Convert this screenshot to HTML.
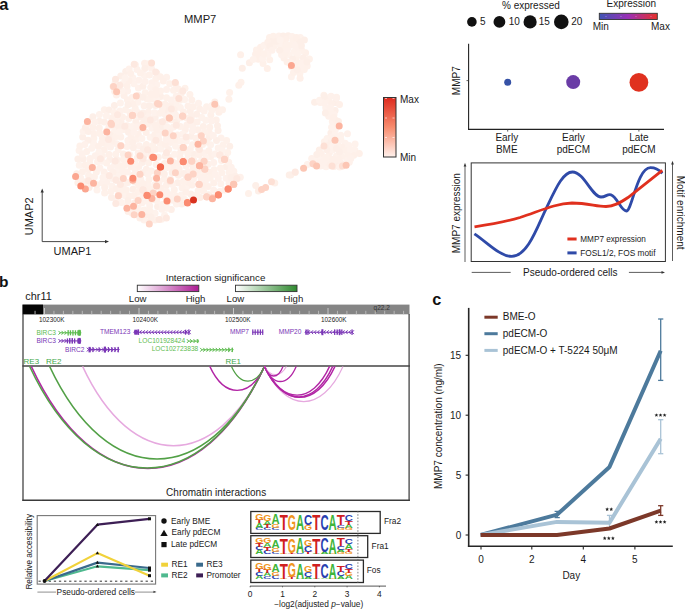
<!DOCTYPE html>
<html><head><meta charset="utf-8"><style>
html,body{margin:0;padding:0;background:#fff;}
svg{display:block;font-family:"Liberation Sans", sans-serif;}
</style></head><body>
<svg width="685" height="610" viewBox="0 0 685 610" font-family='"Liberation Sans", sans-serif'>
<rect width="685" height="610" fill="#fff"/>
<defs>
<linearGradient id="gRed" x1="0" y1="1" x2="0" y2="0"><stop offset="0" stop-color="#fff1ec"/><stop offset="0.5" stop-color="#f88c6e"/><stop offset="1" stop-color="#dd2a1e"/></linearGradient>
<linearGradient id="gExp" x1="0" y1="0" x2="1" y2="0"><stop offset="0" stop-color="#3f54b4"/><stop offset="0.5" stop-color="#9a2fb5"/><stop offset="1" stop-color="#e8312a"/></linearGradient>
<linearGradient id="gMag" x1="0" y1="0" x2="1" y2="0"><stop offset="0" stop-color="#ffffff"/><stop offset="1" stop-color="#ac1b94"/></linearGradient>
<linearGradient id="gGrn" x1="0" y1="0" x2="1" y2="0"><stop offset="0" stop-color="#ffffff"/><stop offset="1" stop-color="#2f8a2f"/></linearGradient>
<marker id="arr" viewBox="0 0 6 6" refX="5" refY="3" markerWidth="5" markerHeight="5" orient="auto"><path d="M0,0 L6,3 L0,6 z" fill="#333"/></marker>
</defs>
<text x="-0.8" y="9.8" font-size="16.5" text-anchor="start" fill="#111" font-weight="bold" >a</text>
<text x="184" y="23" font-size="11.2" text-anchor="start" fill="#1a1a1a" font-weight="normal" >MMP7</text>
<circle cx="135.4" cy="64.8" r="3.5" fill="#fef1eb"/>
<circle cx="144.6" cy="63.3" r="3.5" fill="#fef0e9"/>
<circle cx="148.6" cy="63.7" r="3.5" fill="#fef1ea"/>
<circle cx="156.7" cy="72.9" r="3.5" fill="#fdefe8"/>
<circle cx="166.6" cy="77.3" r="3.5" fill="#fef1eb"/>
<circle cx="175.7" cy="83.9" r="3.5" fill="#fef0e9"/>
<circle cx="185.0" cy="88.3" r="3.5" fill="#fef1ea"/>
<circle cx="189.9" cy="94.6" r="3.5" fill="#fef1ea"/>
<circle cx="198.5" cy="103.2" r="3.5" fill="#fef1eb"/>
<circle cx="206.6" cy="106.7" r="3.5" fill="#fef1ea"/>
<circle cx="211.9" cy="105.4" r="3.5" fill="#fef2ec"/>
<circle cx="214.8" cy="102.1" r="3.5" fill="#fdefe8"/>
<circle cx="217.3" cy="108.3" r="3.5" fill="#fdefe8"/>
<circle cx="218.9" cy="112.2" r="3.5" fill="#fef0e9"/>
<circle cx="216.2" cy="120.0" r="3.5" fill="#fef0e9"/>
<circle cx="217.5" cy="125.7" r="3.5" fill="#fdefe8"/>
<circle cx="218.1" cy="130.6" r="3.5" fill="#fdefe8"/>
<circle cx="221.1" cy="138.0" r="3.5" fill="#fef1eb"/>
<circle cx="226.6" cy="140.5" r="3.5" fill="#fef1ea"/>
<circle cx="229.7" cy="146.3" r="3.5" fill="#fdefe8"/>
<circle cx="227.7" cy="152.4" r="3.5" fill="#fef1ea"/>
<circle cx="233.8" cy="171.3" r="3.5" fill="#fef1eb"/>
<circle cx="240.3" cy="177.3" r="3.5" fill="#fef1eb"/>
<circle cx="234.1" cy="180.9" r="3.5" fill="#fef2ec"/>
<circle cx="224.7" cy="189.9" r="3.5" fill="#fef1eb"/>
<circle cx="219.9" cy="191.5" r="3.5" fill="#fef1eb"/>
<circle cx="208.7" cy="194.8" r="3.5" fill="#fdefe8"/>
<circle cx="200.0" cy="197.4" r="3.5" fill="#fdefe8"/>
<circle cx="192.5" cy="199.3" r="3.5" fill="#fdefe8"/>
<circle cx="188.2" cy="202.1" r="3.5" fill="#fef2ec"/>
<circle cx="181.8" cy="204.1" r="3.5" fill="#fdefe8"/>
<circle cx="171.3" cy="209.6" r="3.5" fill="#fdefe8"/>
<circle cx="161.5" cy="219.2" r="3.5" fill="#fef0e9"/>
<circle cx="149.2" cy="221.6" r="3.5" fill="#fdefe8"/>
<circle cx="144.1" cy="220.1" r="3.5" fill="#fef1eb"/>
<circle cx="139.9" cy="217.9" r="3.5" fill="#fdefe8"/>
<circle cx="132.2" cy="213.3" r="3.5" fill="#fef1eb"/>
<circle cx="128.1" cy="211.5" r="3.5" fill="#fef0e9"/>
<circle cx="116.0" cy="198.9" r="3.5" fill="#fef2ec"/>
<circle cx="111.5" cy="197.5" r="3.5" fill="#fdefe8"/>
<circle cx="104.6" cy="193.0" r="3.5" fill="#fef1ea"/>
<circle cx="97.0" cy="190.0" r="3.5" fill="#fef2ec"/>
<circle cx="89.1" cy="187.6" r="3.5" fill="#fdefe8"/>
<circle cx="84.1" cy="186.5" r="3.5" fill="#fef1eb"/>
<circle cx="77.9" cy="182.8" r="3.5" fill="#fef0e9"/>
<circle cx="76.7" cy="173.8" r="3.5" fill="#fdefe8"/>
<circle cx="79.1" cy="150.5" r="3.5" fill="#fef2ec"/>
<circle cx="79.9" cy="146.0" r="3.5" fill="#fef1ea"/>
<circle cx="82.7" cy="137.0" r="3.5" fill="#fdefe8"/>
<circle cx="83.2" cy="131.5" r="3.5" fill="#fef2ec"/>
<circle cx="85.4" cy="127.5" r="3.5" fill="#fdefe8"/>
<circle cx="87.5" cy="123.6" r="3.5" fill="#fef1ea"/>
<circle cx="92.9" cy="116.8" r="3.5" fill="#fdefe8"/>
<circle cx="104.3" cy="109.8" r="3.5" fill="#fef1ea"/>
<circle cx="109.0" cy="109.9" r="3.5" fill="#fdefe8"/>
<circle cx="114.4" cy="105.4" r="3.5" fill="#fdefe8"/>
<circle cx="116.4" cy="95.0" r="3.5" fill="#fef2ec"/>
<circle cx="114.7" cy="91.6" r="3.5" fill="#fef1ea"/>
<circle cx="113.0" cy="86.6" r="3.5" fill="#fef1ea"/>
<circle cx="115.1" cy="82.9" r="3.5" fill="#fef2ec"/>
<circle cx="120.8" cy="75.9" r="3.5" fill="#fdefe8"/>
<circle cx="125.7" cy="71.6" r="3.5" fill="#fdefe8"/>
<circle cx="129.1" cy="69.0" r="3.5" fill="#fef1eb"/>
<circle cx="256.5" cy="50.1" r="3.5" fill="#fef1ea"/>
<circle cx="260.6" cy="47.2" r="3.5" fill="#fef0e9"/>
<circle cx="264.1" cy="45.3" r="3.5" fill="#fef2ec"/>
<circle cx="269.5" cy="37.5" r="3.5" fill="#fef1ea"/>
<circle cx="273.3" cy="36.3" r="3.5" fill="#fef1ea"/>
<circle cx="278.9" cy="36.0" r="3.5" fill="#fef1eb"/>
<circle cx="283.2" cy="36.0" r="3.5" fill="#fdefe8"/>
<circle cx="288.1" cy="35.8" r="3.5" fill="#fdefe8"/>
<circle cx="292.1" cy="36.4" r="3.5" fill="#fef1eb"/>
<circle cx="300.3" cy="37.4" r="3.5" fill="#fef2ec"/>
<circle cx="304.4" cy="40.1" r="3.5" fill="#fdefe8"/>
<circle cx="305.6" cy="52.8" r="3.5" fill="#fef0e9"/>
<circle cx="309.4" cy="58.9" r="3.5" fill="#fef1ea"/>
<circle cx="307.2" cy="65.9" r="3.5" fill="#fef1eb"/>
<circle cx="304.3" cy="69.5" r="3.5" fill="#fef1ea"/>
<circle cx="299.9" cy="73.4" r="3.5" fill="#fef1ea"/>
<circle cx="300.1" cy="78.2" r="3.5" fill="#fef0e9"/>
<circle cx="291.4" cy="76.7" r="3.5" fill="#fef2ec"/>
<circle cx="287.1" cy="62.1" r="3.5" fill="#fef0e9"/>
<circle cx="284.0" cy="58.0" r="3.5" fill="#fef0e9"/>
<circle cx="281.6" cy="54.7" r="3.5" fill="#fef1eb"/>
<circle cx="269.7" cy="59.7" r="3.5" fill="#fef1ea"/>
<circle cx="267.3" cy="68.6" r="3.5" fill="#fef0e9"/>
<circle cx="263.1" cy="63.4" r="3.5" fill="#fef1ea"/>
<circle cx="249.4" cy="62.7" r="3.5" fill="#fdefe8"/>
<circle cx="323.9" cy="95.2" r="3.5" fill="#fef1ea"/>
<circle cx="328.6" cy="100.1" r="3.5" fill="#fef1ea"/>
<circle cx="336.5" cy="97.2" r="3.5" fill="#fef1ea"/>
<circle cx="335.4" cy="102.5" r="3.5" fill="#fdefe8"/>
<circle cx="335.1" cy="110.4" r="3.5" fill="#fdefe8"/>
<circle cx="340.7" cy="135.2" r="3.5" fill="#fef2ec"/>
<circle cx="347.5" cy="133.8" r="3.5" fill="#fef1eb"/>
<circle cx="345.2" cy="143.3" r="3.5" fill="#fef2ec"/>
<circle cx="355.1" cy="144.1" r="3.5" fill="#fef2ec"/>
<circle cx="354.9" cy="150.2" r="3.5" fill="#fef2ec"/>
<circle cx="359.3" cy="153.5" r="3.5" fill="#fef0e9"/>
<circle cx="353.7" cy="155.2" r="3.5" fill="#fef0e9"/>
<circle cx="349.3" cy="162.3" r="3.5" fill="#fef1eb"/>
<circle cx="345.8" cy="164.6" r="3.5" fill="#fef1ea"/>
<circle cx="333.9" cy="166.4" r="3.5" fill="#fdefe8"/>
<circle cx="326.0" cy="166.8" r="3.5" fill="#fef2ec"/>
<circle cx="320.6" cy="166.0" r="3.5" fill="#fef1eb"/>
<circle cx="314.6" cy="164.5" r="3.5" fill="#fef0e9"/>
<circle cx="307.3" cy="164.5" r="3.5" fill="#fef2ec"/>
<circle cx="311.7" cy="158.6" r="3.5" fill="#fef1eb"/>
<circle cx="319.3" cy="150.1" r="3.5" fill="#fdefe8"/>
<circle cx="324.3" cy="141.7" r="3.5" fill="#fef1ea"/>
<circle cx="327.1" cy="138.6" r="3.5" fill="#fef2ec"/>
<circle cx="330.9" cy="133.1" r="3.5" fill="#fdefe8"/>
<circle cx="331.6" cy="127.2" r="3.5" fill="#fef2ec"/>
<circle cx="332.3" cy="121.4" r="3.5" fill="#fef1eb"/>
<circle cx="328.7" cy="116.3" r="3.5" fill="#fef1eb"/>
<circle cx="326.1" cy="112.2" r="3.5" fill="#fef1ea"/>
<circle cx="320.2" cy="102.4" r="3.5" fill="#fef1eb"/>
<circle cx="160.1" cy="143.5" r="3.5" fill="#fef1ea"/>
<circle cx="210.7" cy="156.6" r="3.5" fill="#fef0e9"/>
<circle cx="221.8" cy="172.8" r="3.5" fill="#fef1ea"/>
<circle cx="132.8" cy="77.8" r="3.5" fill="#fef2ec"/>
<circle cx="177.5" cy="163.5" r="3.5" fill="#fef0e9"/>
<circle cx="186.3" cy="141.0" r="3.5" fill="#fef2ec"/>
<circle cx="197.6" cy="143.2" r="3.5" fill="#fef1eb"/>
<circle cx="162.0" cy="169.0" r="3.5" fill="#fef1ea"/>
<circle cx="83.5" cy="181.7" r="3.5" fill="#fdefe8"/>
<circle cx="116.9" cy="180.5" r="3.5" fill="#fef0e9"/>
<circle cx="106.8" cy="182.2" r="3.5" fill="#fef1eb"/>
<circle cx="136.5" cy="139.3" r="3.5" fill="#fef1ea"/>
<circle cx="186.8" cy="186.7" r="3.5" fill="#fef2ec"/>
<circle cx="123.4" cy="153.9" r="3.5" fill="#fdefe8"/>
<circle cx="117.4" cy="171.0" r="3.5" fill="#fef2ec"/>
<circle cx="188.2" cy="171.7" r="3.5" fill="#fef1eb"/>
<circle cx="121.1" cy="145.5" r="3.5" fill="#fef2ec"/>
<circle cx="150.2" cy="137.2" r="3.5" fill="#fef2ec"/>
<circle cx="149.2" cy="195.4" r="3.5" fill="#fef1eb"/>
<circle cx="169.7" cy="83.8" r="3.5" fill="#fef1ea"/>
<circle cx="157.6" cy="206.4" r="3.5" fill="#fdefe8"/>
<circle cx="154.7" cy="134.7" r="3.5" fill="#fef0e9"/>
<circle cx="123.0" cy="83.6" r="3.5" fill="#fef2ec"/>
<circle cx="130.0" cy="112.5" r="3.5" fill="#fef0e9"/>
<circle cx="121.0" cy="121.7" r="3.5" fill="#fdefe8"/>
<circle cx="171.0" cy="119.8" r="3.5" fill="#fef0e9"/>
<circle cx="144.1" cy="105.8" r="3.5" fill="#fef0e9"/>
<circle cx="104.2" cy="121.9" r="3.5" fill="#fdefe8"/>
<circle cx="208.3" cy="164.3" r="3.5" fill="#fef0e9"/>
<circle cx="164.3" cy="178.9" r="3.5" fill="#fef1ea"/>
<circle cx="147.9" cy="184.3" r="3.5" fill="#fef1eb"/>
<circle cx="180.3" cy="107.6" r="3.5" fill="#fef2ec"/>
<circle cx="93.8" cy="138.2" r="3.5" fill="#fef1ea"/>
<circle cx="138.4" cy="88.0" r="3.5" fill="#fef1eb"/>
<circle cx="115.7" cy="154.2" r="3.5" fill="#fef1ea"/>
<circle cx="220.8" cy="183.8" r="3.5" fill="#fef2ec"/>
<circle cx="141.5" cy="128.6" r="3.5" fill="#fdefe8"/>
<circle cx="160.1" cy="122.5" r="3.5" fill="#fef1ea"/>
<circle cx="93.5" cy="143.3" r="3.5" fill="#fef2ec"/>
<circle cx="114.0" cy="126.3" r="3.5" fill="#fdefe8"/>
<circle cx="151.6" cy="157.1" r="3.5" fill="#fdefe8"/>
<circle cx="98.3" cy="146.4" r="3.5" fill="#fef0e9"/>
<circle cx="193.2" cy="167.0" r="3.5" fill="#fef0e9"/>
<circle cx="200.4" cy="135.7" r="3.5" fill="#fef0e9"/>
<circle cx="226.3" cy="166.7" r="3.5" fill="#fdefe8"/>
<circle cx="114.6" cy="165.2" r="3.5" fill="#fef1eb"/>
<circle cx="109.9" cy="159.4" r="3.5" fill="#fdefe8"/>
<circle cx="152.0" cy="99.1" r="3.5" fill="#fef1ea"/>
<circle cx="190.3" cy="111.1" r="3.5" fill="#fdefe8"/>
<circle cx="185.3" cy="129.6" r="3.5" fill="#fef0e9"/>
<circle cx="142.8" cy="172.8" r="3.5" fill="#fdefe8"/>
<circle cx="124.6" cy="195.4" r="3.5" fill="#fef2ec"/>
<circle cx="199.7" cy="109.0" r="3.5" fill="#fef0e9"/>
<circle cx="138.3" cy="95.5" r="3.5" fill="#fdefe8"/>
<circle cx="138.3" cy="208.2" r="3.5" fill="#fef2ec"/>
<circle cx="127.5" cy="91.0" r="3.5" fill="#fef1eb"/>
<circle cx="229.0" cy="183.3" r="3.5" fill="#fef1eb"/>
<circle cx="135.8" cy="122.0" r="3.5" fill="#fdefe8"/>
<circle cx="144.8" cy="68.6" r="3.5" fill="#fdefe8"/>
<circle cx="151.7" cy="121.8" r="3.5" fill="#fef0e9"/>
<circle cx="133.4" cy="208.1" r="3.5" fill="#fef0e9"/>
<circle cx="208.2" cy="186.6" r="3.5" fill="#fef0e9"/>
<circle cx="175.7" cy="103.6" r="3.5" fill="#fef2ec"/>
<circle cx="114.5" cy="131.2" r="3.5" fill="#fef2ec"/>
<circle cx="155.0" cy="213.2" r="3.5" fill="#fef2ec"/>
<circle cx="201.7" cy="160.4" r="3.5" fill="#fef2ec"/>
<circle cx="133.0" cy="189.2" r="3.5" fill="#fdefe8"/>
<circle cx="164.9" cy="114.1" r="3.5" fill="#fef1eb"/>
<circle cx="155.8" cy="177.3" r="3.5" fill="#fef1eb"/>
<circle cx="147.2" cy="99.0" r="3.5" fill="#fef1ea"/>
<circle cx="142.2" cy="162.5" r="3.5" fill="#fdefe8"/>
<circle cx="214.1" cy="169.8" r="3.5" fill="#fef1ea"/>
<circle cx="134.9" cy="181.9" r="3.5" fill="#fef0e9"/>
<circle cx="220.3" cy="155.6" r="3.5" fill="#fef1eb"/>
<circle cx="127.1" cy="125.7" r="3.5" fill="#fef0e9"/>
<circle cx="134.7" cy="203.0" r="3.5" fill="#fdefe8"/>
<circle cx="90.2" cy="158.6" r="3.5" fill="#fef1eb"/>
<circle cx="176.2" cy="96.3" r="3.5" fill="#fef1eb"/>
<circle cx="134.1" cy="83.8" r="3.5" fill="#fef2ec"/>
<circle cx="172.7" cy="167.7" r="3.5" fill="#fef0e9"/>
<circle cx="127.2" cy="172.1" r="3.5" fill="#fef1eb"/>
<circle cx="119.9" cy="111.1" r="3.5" fill="#fef1eb"/>
<circle cx="142.1" cy="202.7" r="3.5" fill="#fef1eb"/>
<circle cx="209.7" cy="127.3" r="3.5" fill="#fef0e9"/>
<circle cx="176.5" cy="121.5" r="3.5" fill="#fdefe8"/>
<circle cx="156.8" cy="84.5" r="3.5" fill="#fef2ec"/>
<circle cx="154.5" cy="192.9" r="3.5" fill="#fef1eb"/>
<circle cx="176.2" cy="196.1" r="3.5" fill="#fef1ea"/>
<circle cx="139.3" cy="145.7" r="3.5" fill="#fef1eb"/>
<circle cx="166.5" cy="185.1" r="3.5" fill="#fef0e9"/>
<circle cx="164.5" cy="163.6" r="3.5" fill="#fef0e9"/>
<circle cx="123.7" cy="129.6" r="3.5" fill="#fef1ea"/>
<circle cx="169.9" cy="130.5" r="3.5" fill="#fef0e9"/>
<circle cx="182.7" cy="134.0" r="3.5" fill="#fef2ec"/>
<circle cx="176.0" cy="141.0" r="3.5" fill="#fef1ea"/>
<circle cx="111.8" cy="186.1" r="3.5" fill="#fef2ec"/>
<circle cx="102.5" cy="138.3" r="3.5" fill="#fef0e9"/>
<circle cx="144.5" cy="75.6" r="3.5" fill="#fef2ec"/>
<circle cx="146.4" cy="144.4" r="3.5" fill="#fef0e9"/>
<circle cx="79.3" cy="165.2" r="3.5" fill="#fef2ec"/>
<circle cx="202.5" cy="144.6" r="3.5" fill="#fef1ea"/>
<circle cx="118.5" cy="194.7" r="3.5" fill="#fdefe8"/>
<circle cx="116.5" cy="143.7" r="3.5" fill="#fef1eb"/>
<circle cx="229.1" cy="172.3" r="3.5" fill="#fef1ea"/>
<circle cx="165.3" cy="155.9" r="3.5" fill="#fdefe8"/>
<circle cx="138.4" cy="191.7" r="3.5" fill="#fef1ea"/>
<circle cx="102.1" cy="182.8" r="3.5" fill="#fef1eb"/>
<circle cx="183.5" cy="111.9" r="3.5" fill="#fef0e9"/>
<circle cx="97.5" cy="161.8" r="3.5" fill="#fef2ec"/>
<circle cx="110.5" cy="167.9" r="3.5" fill="#fef1eb"/>
<circle cx="132.2" cy="97.4" r="3.5" fill="#fef1eb"/>
<circle cx="170.1" cy="157.4" r="3.5" fill="#fef1ea"/>
<circle cx="106.6" cy="163.1" r="3.5" fill="#fef1ea"/>
<circle cx="151.9" cy="82.7" r="3.5" fill="#fef1eb"/>
<circle cx="203.3" cy="126.6" r="3.5" fill="#fef0e9"/>
<circle cx="180.3" cy="153.0" r="3.5" fill="#fef0e9"/>
<circle cx="131.1" cy="166.7" r="3.5" fill="#fef0e9"/>
<circle cx="146.7" cy="214.7" r="3.5" fill="#fdefe8"/>
<circle cx="161.4" cy="127.3" r="3.5" fill="#fdefe8"/>
<circle cx="164.6" cy="215.3" r="3.5" fill="#fef2ec"/>
<circle cx="213.7" cy="183.1" r="3.5" fill="#fef0e9"/>
<circle cx="197.8" cy="174.8" r="3.5" fill="#fef1eb"/>
<circle cx="145.4" cy="190.2" r="3.5" fill="#fef1ea"/>
<circle cx="160.0" cy="104.1" r="3.5" fill="#fef2ec"/>
<circle cx="127.2" cy="205.3" r="3.5" fill="#fef1eb"/>
<circle cx="127.4" cy="99.8" r="3.5" fill="#fef0e9"/>
<circle cx="193.7" cy="154.3" r="3.5" fill="#fdefe8"/>
<circle cx="124.0" cy="95.4" r="3.5" fill="#fef0e9"/>
<circle cx="178.5" cy="175.2" r="3.5" fill="#fef0e9"/>
<circle cx="192.2" cy="121.0" r="3.5" fill="#fef1ea"/>
<circle cx="156.7" cy="200.6" r="3.5" fill="#fef2ec"/>
<circle cx="201.7" cy="117.5" r="3.5" fill="#fef2ec"/>
<circle cx="190.3" cy="149.0" r="3.5" fill="#fef1eb"/>
<circle cx="154.6" cy="141.3" r="3.5" fill="#fef1ea"/>
<circle cx="155.2" cy="117.6" r="3.5" fill="#fdefe8"/>
<circle cx="108.4" cy="175.6" r="3.5" fill="#fef0e9"/>
<circle cx="155.8" cy="78.6" r="3.5" fill="#fef1ea"/>
<circle cx="204.2" cy="175.2" r="3.5" fill="#fef1ea"/>
<circle cx="132.0" cy="126.5" r="3.5" fill="#fef2ec"/>
<circle cx="198.6" cy="184.4" r="3.5" fill="#fef0e9"/>
<circle cx="180.6" cy="117.8" r="3.5" fill="#fef2ec"/>
<circle cx="127.1" cy="86.1" r="3.5" fill="#fef0e9"/>
<circle cx="149.7" cy="206.1" r="3.5" fill="#fef1eb"/>
<circle cx="122.9" cy="176.2" r="3.5" fill="#fef0e9"/>
<circle cx="127.1" cy="146.4" r="3.5" fill="#fef1eb"/>
<circle cx="99.4" cy="114.5" r="3.5" fill="#fef2ec"/>
<circle cx="205.4" cy="181.1" r="3.5" fill="#fef1eb"/>
<circle cx="145.2" cy="92.8" r="3.5" fill="#fef1ea"/>
<circle cx="156.2" cy="164.5" r="3.5" fill="#fef2ec"/>
<circle cx="173.4" cy="127.1" r="3.5" fill="#fef1eb"/>
<circle cx="144.4" cy="154.9" r="3.5" fill="#fef1eb"/>
<circle cx="197.7" cy="129.8" r="3.5" fill="#fef0e9"/>
<circle cx="186.1" cy="166.0" r="3.5" fill="#fef2ec"/>
<circle cx="148.4" cy="112.0" r="3.5" fill="#fef0e9"/>
<circle cx="148.6" cy="162.7" r="3.5" fill="#fef1ea"/>
<circle cx="168.6" cy="149.5" r="3.5" fill="#fdefe8"/>
<circle cx="192.4" cy="144.8" r="3.5" fill="#fef2ec"/>
<circle cx="186.9" cy="125.1" r="3.5" fill="#fef0e9"/>
<circle cx="160.6" cy="96.5" r="3.5" fill="#fdefe8"/>
<circle cx="166.5" cy="97.7" r="3.5" fill="#fef1ea"/>
<circle cx="209.0" cy="137.5" r="3.5" fill="#fdefe8"/>
<circle cx="193.2" cy="106.8" r="3.5" fill="#fef0e9"/>
<circle cx="179.1" cy="168.9" r="3.5" fill="#fef1ea"/>
<circle cx="221.5" cy="160.6" r="3.5" fill="#fef1ea"/>
<circle cx="203.1" cy="170.5" r="3.5" fill="#fef2ec"/>
<circle cx="155.8" cy="149.3" r="3.5" fill="#fef0e9"/>
<circle cx="85.1" cy="165.3" r="3.5" fill="#fef0e9"/>
<circle cx="165.1" cy="196.5" r="3.5" fill="#fef2ec"/>
<circle cx="125.5" cy="109.7" r="3.5" fill="#fef1ea"/>
<circle cx="172.2" cy="172.5" r="3.5" fill="#fdefe8"/>
<circle cx="134.2" cy="195.8" r="3.5" fill="#fef0e9"/>
<circle cx="204.0" cy="153.0" r="3.5" fill="#fef1eb"/>
<circle cx="143.0" cy="112.9" r="3.5" fill="#fdefe8"/>
<circle cx="137.2" cy="157.9" r="3.5" fill="#fef1eb"/>
<circle cx="152.0" cy="128.3" r="3.5" fill="#fef2ec"/>
<circle cx="191.1" cy="136.3" r="3.5" fill="#fdefe8"/>
<circle cx="181.3" cy="195.0" r="3.5" fill="#fef2ec"/>
<circle cx="216.5" cy="140.5" r="3.5" fill="#fdefe8"/>
<circle cx="205.8" cy="120.3" r="3.5" fill="#fef2ec"/>
<circle cx="142.4" cy="124.0" r="3.5" fill="#fef0e9"/>
<circle cx="235.3" cy="176.2" r="3.5" fill="#fdefe8"/>
<circle cx="210.8" cy="115.1" r="3.5" fill="#fef0e9"/>
<circle cx="187.0" cy="159.5" r="3.5" fill="#fef1eb"/>
<circle cx="170.6" cy="194.7" r="3.5" fill="#fef1eb"/>
<circle cx="86.7" cy="151.6" r="3.5" fill="#fef1ea"/>
<circle cx="198.1" cy="190.7" r="3.5" fill="#fef1ea"/>
<circle cx="149.4" cy="74.9" r="3.5" fill="#fef1ea"/>
<circle cx="166.9" cy="126.7" r="3.5" fill="#fef2ec"/>
<circle cx="116.2" cy="188.7" r="3.5" fill="#fef0e9"/>
<circle cx="83.2" cy="158.9" r="3.5" fill="#fdefe8"/>
<circle cx="138.9" cy="80.2" r="3.5" fill="#fef1eb"/>
<circle cx="138.2" cy="134.3" r="3.5" fill="#fef0e9"/>
<circle cx="96.7" cy="184.7" r="3.5" fill="#fef0e9"/>
<circle cx="96.4" cy="172.0" r="3.5" fill="#fef1ea"/>
<circle cx="177.6" cy="134.9" r="3.5" fill="#fef1eb"/>
<circle cx="129.3" cy="195.9" r="3.5" fill="#fef0e9"/>
<circle cx="154.6" cy="112.8" r="3.5" fill="#fef2ec"/>
<circle cx="107.8" cy="139.0" r="3.5" fill="#fdefe8"/>
<circle cx="120.4" cy="102.9" r="3.5" fill="#fef2ec"/>
<circle cx="160.5" cy="91.1" r="3.5" fill="#fef1ea"/>
<circle cx="109.0" cy="154.5" r="3.5" fill="#fef0e9"/>
<circle cx="155.3" cy="105.6" r="3.5" fill="#fdefe8"/>
<circle cx="190.8" cy="194.0" r="3.5" fill="#fdefe8"/>
<circle cx="140.7" cy="179.2" r="3.5" fill="#fef1eb"/>
<circle cx="211.5" cy="120.9" r="3.5" fill="#fef1eb"/>
<circle cx="159.4" cy="133.8" r="3.5" fill="#fef1eb"/>
<circle cx="161.2" cy="148.9" r="3.5" fill="#fef2ec"/>
<circle cx="88.6" cy="175.5" r="3.5" fill="#fef1ea"/>
<circle cx="92.9" cy="127.2" r="3.5" fill="#fef0e9"/>
<circle cx="128.5" cy="132.2" r="3.5" fill="#fdefe8"/>
<circle cx="133.4" cy="147.8" r="3.5" fill="#fdefe8"/>
<circle cx="118.2" cy="149.7" r="3.5" fill="#fef1ea"/>
<circle cx="174.5" cy="154.3" r="3.5" fill="#fef2ec"/>
<circle cx="181.2" cy="93.6" r="3.5" fill="#fef0e9"/>
<circle cx="128.8" cy="118.5" r="3.5" fill="#fef0e9"/>
<circle cx="159.1" cy="182.0" r="3.5" fill="#fef1eb"/>
<circle cx="170.5" cy="142.4" r="3.5" fill="#fef1eb"/>
<circle cx="149.1" cy="179.4" r="3.5" fill="#fef1ea"/>
<circle cx="126.3" cy="190.0" r="3.5" fill="#fef1ea"/>
<circle cx="106.7" cy="130.7" r="3.5" fill="#fef1ea"/>
<circle cx="159.0" cy="173.2" r="3.5" fill="#fef1eb"/>
<circle cx="160.3" cy="76.8" r="3.5" fill="#fef0e9"/>
<circle cx="210.6" cy="144.8" r="3.5" fill="#fef2ec"/>
<circle cx="142.9" cy="86.2" r="3.5" fill="#fdefe8"/>
<circle cx="204.2" cy="111.0" r="3.5" fill="#fef1eb"/>
<circle cx="165.0" cy="104.3" r="3.5" fill="#fef0e9"/>
<circle cx="180.6" cy="147.9" r="3.5" fill="#fdefe8"/>
<circle cx="137.0" cy="69.5" r="3.5" fill="#fef1eb"/>
<circle cx="123.3" cy="159.6" r="3.5" fill="#fef1ea"/>
<circle cx="91.7" cy="148.3" r="3.5" fill="#fef2ec"/>
<circle cx="137.0" cy="126.8" r="3.5" fill="#fef1eb"/>
<circle cx="93.9" cy="133.4" r="3.5" fill="#fef0e9"/>
<circle cx="110.5" cy="135.0" r="3.5" fill="#fdefe8"/>
<circle cx="94.4" cy="176.7" r="3.5" fill="#fef1ea"/>
<circle cx="124.5" cy="165.5" r="3.5" fill="#fef1ea"/>
<circle cx="186.9" cy="117.9" r="3.5" fill="#fef0e9"/>
<circle cx="188.1" cy="182.0" r="3.5" fill="#fef0e9"/>
<circle cx="184.6" cy="99.6" r="3.5" fill="#fef2ec"/>
<circle cx="208.8" cy="150.7" r="3.5" fill="#fef0e9"/>
<circle cx="104.2" cy="149.8" r="3.5" fill="#fef0e9"/>
<circle cx="122.0" cy="91.1" r="3.5" fill="#fef2ec"/>
<circle cx="196.6" cy="114.2" r="3.5" fill="#fdefe8"/>
<circle cx="99.9" cy="133.4" r="3.5" fill="#fef1ea"/>
<circle cx="82.5" cy="171.8" r="3.5" fill="#fef0e9"/>
<circle cx="174.3" cy="109.4" r="3.5" fill="#fef0e9"/>
<circle cx="122.5" cy="117.0" r="3.5" fill="#fef0e9"/>
<circle cx="104.1" cy="172.1" r="3.5" fill="#fef0e9"/>
<circle cx="158.3" cy="157.3" r="3.5" fill="#fdefe8"/>
<circle cx="192.0" cy="185.0" r="3.5" fill="#fef0e9"/>
<circle cx="176.4" cy="204.0" r="3.5" fill="#fef2ec"/>
<circle cx="209.3" cy="172.3" r="3.5" fill="#fef0e9"/>
<circle cx="111.8" cy="117.9" r="3.5" fill="#fef0e9"/>
<circle cx="102.4" cy="156.0" r="3.5" fill="#fef1ea"/>
<circle cx="109.0" cy="126.2" r="3.5" fill="#fef1eb"/>
<circle cx="162.3" cy="204.5" r="3.5" fill="#fef2ec"/>
<circle cx="115.5" cy="136.7" r="3.5" fill="#fef1ea"/>
<circle cx="143.3" cy="149.1" r="3.5" fill="#fdefe8"/>
<circle cx="127.8" cy="182.4" r="3.5" fill="#fef0e9"/>
<circle cx="182.1" cy="187.8" r="3.5" fill="#fef1ea"/>
<circle cx="180.4" cy="126.6" r="3.5" fill="#fef1ea"/>
<circle cx="127.9" cy="140.4" r="3.5" fill="#fef1eb"/>
<circle cx="226.1" cy="178.3" r="3.5" fill="#fef1eb"/>
<circle cx="165.6" cy="120.1" r="3.5" fill="#fef2ec"/>
<circle cx="164.3" cy="174.1" r="3.5" fill="#fdefe8"/>
<circle cx="192.5" cy="126.2" r="3.5" fill="#fef1eb"/>
<circle cx="177.8" cy="182.8" r="3.5" fill="#fdefe8"/>
<circle cx="160.7" cy="194.3" r="3.5" fill="#fef2ec"/>
<circle cx="171.6" cy="136.6" r="3.5" fill="#fef1eb"/>
<circle cx="141.9" cy="138.4" r="3.5" fill="#fef2ec"/>
<circle cx="186.4" cy="177.5" r="3.5" fill="#fef0e9"/>
<circle cx="165.4" cy="144.6" r="3.5" fill="#fef0e9"/>
<circle cx="88.0" cy="140.2" r="3.5" fill="#fdefe8"/>
<circle cx="77.9" cy="159.0" r="3.5" fill="#fdefe8"/>
<circle cx="135.2" cy="169.6" r="3.5" fill="#fef1eb"/>
<circle cx="150.7" cy="87.5" r="3.5" fill="#fef2ec"/>
<circle cx="112.1" cy="141.5" r="3.5" fill="#fef0e9"/>
<circle cx="203.6" cy="191.1" r="3.5" fill="#fef1ea"/>
<circle cx="213.7" cy="162.4" r="3.5" fill="#fef1eb"/>
<circle cx="117.8" cy="175.8" r="3.5" fill="#fef2ec"/>
<circle cx="146.4" cy="169.2" r="3.5" fill="#fef0e9"/>
<circle cx="165.7" cy="134.2" r="3.5" fill="#fef0e9"/>
<circle cx="188.0" cy="106.1" r="3.5" fill="#fef0e9"/>
<circle cx="151.1" cy="152.4" r="3.5" fill="#fef0e9"/>
<circle cx="218.2" cy="148.0" r="3.5" fill="#fef2ec"/>
<circle cx="213.7" cy="190.2" r="3.5" fill="#fef1eb"/>
<circle cx="132.6" cy="175.6" r="3.5" fill="#fef1ea"/>
<circle cx="148.5" cy="116.7" r="3.5" fill="#fef1eb"/>
<circle cx="191.8" cy="99.9" r="3.5" fill="#fef0e9"/>
<circle cx="92.9" cy="167.4" r="3.5" fill="#fef2ec"/>
<circle cx="88.2" cy="180.6" r="3.5" fill="#fdefe8"/>
<circle cx="123.1" cy="185.9" r="3.5" fill="#fef1eb"/>
<circle cx="180.1" cy="157.7" r="3.5" fill="#fef0e9"/>
<circle cx="155.0" cy="220.0" r="3.5" fill="#fef0e9"/>
<circle cx="140.5" cy="117.0" r="3.5" fill="#fdefe8"/>
<circle cx="196.4" cy="163.2" r="3.5" fill="#fef1ea"/>
<circle cx="151.4" cy="171.1" r="3.5" fill="#fef1ea"/>
<circle cx="99.4" cy="121.3" r="3.5" fill="#fdefe8"/>
<circle cx="173.0" cy="200.3" r="3.5" fill="#fef1eb"/>
<circle cx="159.8" cy="113.2" r="3.5" fill="#fef1ea"/>
<circle cx="110.9" cy="191.6" r="3.5" fill="#fef1ea"/>
<circle cx="88.1" cy="169.6" r="3.5" fill="#fef0e9"/>
<circle cx="161.0" cy="188.1" r="3.5" fill="#fef0e9"/>
<circle cx="228.7" cy="162.3" r="3.5" fill="#fef2ec"/>
<circle cx="129.0" cy="80.8" r="3.5" fill="#fef0e9"/>
<circle cx="120.8" cy="137.0" r="3.5" fill="#fef1ea"/>
<circle cx="192.5" cy="131.1" r="3.5" fill="#fef1eb"/>
<circle cx="166.3" cy="191.3" r="3.5" fill="#fef1eb"/>
<circle cx="170.4" cy="179.1" r="3.5" fill="#fef2ec"/>
<circle cx="183.3" cy="181.4" r="3.5" fill="#fef1ea"/>
<circle cx="174.3" cy="189.8" r="3.5" fill="#fef1ea"/>
<circle cx="116.1" cy="121.4" r="3.5" fill="#fef0e9"/>
<circle cx="137.9" cy="102.2" r="3.5" fill="#fef2ec"/>
<circle cx="106.9" cy="144.0" r="3.5" fill="#fef1ea"/>
<circle cx="173.5" cy="90.3" r="3.5" fill="#fef1ea"/>
<circle cx="218.3" cy="178.4" r="3.5" fill="#fef1eb"/>
<circle cx="135.2" cy="108.3" r="3.5" fill="#fef1ea"/>
<circle cx="127.9" cy="200.6" r="3.5" fill="#fdefe8"/>
<circle cx="104.7" cy="187.6" r="3.5" fill="#fef0e9"/>
<circle cx="128.6" cy="161.6" r="3.5" fill="#fef1eb"/>
<circle cx="121.3" cy="202.4" r="3.5" fill="#fef2ec"/>
<circle cx="146.2" cy="132.4" r="3.5" fill="#fef0e9"/>
<circle cx="206.5" cy="142.1" r="3.5" fill="#fef1ea"/>
<circle cx="106.4" cy="115.7" r="3.5" fill="#fef2ec"/>
<circle cx="175.6" cy="115.1" r="3.5" fill="#fef1eb"/>
<circle cx="167.3" cy="202.4" r="3.5" fill="#fef1ea"/>
<circle cx="114.3" cy="112.4" r="3.5" fill="#fef1ea"/>
<circle cx="138.2" cy="152.9" r="3.5" fill="#fef1eb"/>
<circle cx="199.0" cy="154.7" r="3.5" fill="#fef0e9"/>
<circle cx="129.8" cy="154.7" r="3.5" fill="#fef2ec"/>
<circle cx="170.5" cy="105.8" r="3.5" fill="#fef0e9"/>
<circle cx="138.6" cy="185.5" r="3.5" fill="#fef0e9"/>
<circle cx="220.5" cy="168.1" r="3.5" fill="#fef1ea"/>
<circle cx="184.5" cy="199.2" r="3.5" fill="#fef1ea"/>
<circle cx="197.1" cy="122.0" r="3.5" fill="#fef0e9"/>
<circle cx="149.4" cy="105.8" r="3.5" fill="#fdefe8"/>
<circle cx="214.9" cy="154.0" r="3.5" fill="#fef1eb"/>
<circle cx="99.9" cy="168.0" r="3.5" fill="#fef1eb"/>
<circle cx="140.4" cy="72.9" r="3.5" fill="#fef1ea"/>
<circle cx="142.7" cy="97.3" r="3.5" fill="#fdefe8"/>
<circle cx="84.7" cy="144.4" r="3.5" fill="#fef1eb"/>
<circle cx="154.8" cy="184.8" r="3.5" fill="#fef2ec"/>
<circle cx="131.1" cy="136.8" r="3.5" fill="#fef0e9"/>
<circle cx="200.9" cy="165.9" r="3.5" fill="#fef0e9"/>
<circle cx="147.4" cy="201.3" r="3.5" fill="#fef2ec"/>
<circle cx="166.6" cy="208.2" r="3.5" fill="#fef2ec"/>
<circle cx="209.1" cy="132.3" r="3.5" fill="#fef0e9"/>
<circle cx="110.5" cy="146.9" r="3.5" fill="#fef1eb"/>
<circle cx="193.4" cy="178.7" r="3.5" fill="#fef1eb"/>
<circle cx="99.3" cy="127.9" r="3.5" fill="#fef0e9"/>
<circle cx="183.6" cy="173.6" r="3.5" fill="#fdefe8"/>
<circle cx="213.3" cy="135.4" r="3.5" fill="#fef1eb"/>
<circle cx="156.7" cy="99.5" r="3.5" fill="#fef2ec"/>
<circle cx="172.6" cy="184.5" r="3.5" fill="#fef2ec"/>
<circle cx="187.9" cy="153.9" r="3.5" fill="#fef1ea"/>
<circle cx="143.6" cy="195.8" r="3.5" fill="#fef1eb"/>
<circle cx="171.2" cy="100.1" r="3.5" fill="#fef1eb"/>
<circle cx="98.8" cy="152.6" r="3.5" fill="#fef2ec"/>
<circle cx="178.3" cy="88.9" r="3.5" fill="#fef0e9"/>
<circle cx="167.9" cy="110.2" r="3.5" fill="#fdefe8"/>
<circle cx="223.0" cy="144.9" r="3.5" fill="#fef1ea"/>
<circle cx="161.9" cy="209.2" r="3.5" fill="#fef1eb"/>
<circle cx="180.9" cy="141.0" r="3.5" fill="#fef2ec"/>
<circle cx="101.6" cy="143.0" r="3.5" fill="#fef0e9"/>
<circle cx="138.8" cy="166.4" r="3.5" fill="#fef0e9"/>
<circle cx="103.0" cy="177.6" r="3.5" fill="#fef2ec"/>
<circle cx="225.7" cy="157.7" r="3.5" fill="#fdefe8"/>
<circle cx="134.7" cy="116.3" r="3.5" fill="#fef2ec"/>
<circle cx="163.3" cy="81.1" r="3.5" fill="#fef0e9"/>
<circle cx="155.4" cy="124.7" r="3.5" fill="#fef0e9"/>
<circle cx="175.6" cy="146.2" r="3.5" fill="#fef2ec"/>
<circle cx="132.7" cy="103.7" r="3.5" fill="#fef0e9"/>
<circle cx="94.7" cy="121.9" r="3.5" fill="#fef1eb"/>
<circle cx="116.9" cy="159.7" r="3.5" fill="#fdefe8"/>
<circle cx="155.7" cy="89.8" r="3.5" fill="#fef0e9"/>
<circle cx="119.2" cy="86.7" r="3.5" fill="#fdefe8"/>
<circle cx="196.1" cy="138.2" r="3.5" fill="#fef0e9"/>
<circle cx="145.2" cy="81.6" r="3.5" fill="#fef1eb"/>
<circle cx="119.3" cy="165.4" r="3.5" fill="#fef1ea"/>
<circle cx="95.2" cy="155.8" r="3.5" fill="#fef1eb"/>
<circle cx="162.4" cy="108.6" r="3.5" fill="#fef1ea"/>
<circle cx="135.1" cy="162.9" r="3.5" fill="#fef2ec"/>
<circle cx="144.3" cy="210.1" r="3.5" fill="#fef1ea"/>
<circle cx="138.9" cy="213.0" r="3.5" fill="#fef1ea"/>
<circle cx="155.8" cy="94.7" r="3.5" fill="#fef0e9"/>
<circle cx="151.1" cy="94.0" r="3.5" fill="#fef0e9"/>
<circle cx="166.0" cy="139.6" r="3.5" fill="#fef1eb"/>
<circle cx="128.0" cy="104.7" r="3.5" fill="#fdefe8"/>
<circle cx="88.3" cy="131.4" r="3.5" fill="#fdefe8"/>
<circle cx="210.2" cy="178.0" r="3.5" fill="#fef1ea"/>
<circle cx="167.2" cy="167.6" r="3.5" fill="#fef2ec"/>
<circle cx="121.0" cy="190.7" r="3.5" fill="#fef1ea"/>
<circle cx="197.5" cy="169.9" r="3.5" fill="#fef0e9"/>
<circle cx="198.4" cy="148.6" r="3.5" fill="#fef1eb"/>
<circle cx="201.2" cy="178.8" r="3.5" fill="#fef1eb"/>
<circle cx="158.6" cy="138.8" r="3.5" fill="#fef1eb"/>
<circle cx="222.3" cy="150.5" r="3.5" fill="#fef2ec"/>
<circle cx="119.1" cy="127.3" r="3.5" fill="#fdefe8"/>
<circle cx="147.2" cy="124.1" r="3.5" fill="#fef0e9"/>
<circle cx="112.9" cy="172.3" r="3.5" fill="#fef0e9"/>
<circle cx="112.4" cy="178.6" r="3.5" fill="#fef2ec"/>
<circle cx="211.8" cy="110.2" r="3.5" fill="#fef1ea"/>
<circle cx="193.5" cy="159.5" r="3.5" fill="#fef1ea"/>
<circle cx="151.4" cy="68.2" r="3.5" fill="#fef1eb"/>
<circle cx="138.1" cy="174.6" r="3.5" fill="#fef1eb"/>
<circle cx="138.7" cy="198.8" r="3.5" fill="#fef1eb"/>
<circle cx="130.7" cy="73.5" r="3.5" fill="#fef0e9"/>
<circle cx="191.5" cy="115.9" r="3.5" fill="#fdefe8"/>
<circle cx="80.6" cy="177.9" r="3.5" fill="#fef1eb"/>
<circle cx="166.5" cy="89.4" r="3.5" fill="#fef1eb"/>
<circle cx="183.0" cy="162.1" r="3.5" fill="#fef2ec"/>
<circle cx="185.9" cy="192.2" r="3.5" fill="#fef0e9"/>
<circle cx="204.4" cy="131.9" r="3.5" fill="#fef1ea"/>
<circle cx="203.5" cy="185.7" r="3.5" fill="#fef0e9"/>
<circle cx="192.9" cy="171.9" r="3.5" fill="#fef0e9"/>
<circle cx="179.7" cy="100.3" r="3.5" fill="#fef1ea"/>
<circle cx="185.1" cy="149.9" r="3.5" fill="#fef1ea"/>
<circle cx="137.7" cy="112.6" r="3.5" fill="#fef1eb"/>
<circle cx="133.9" cy="132.2" r="3.5" fill="#fef1eb"/>
<circle cx="172.6" cy="161.7" r="3.5" fill="#fdefe8"/>
<circle cx="117.8" cy="115.8" r="3.5" fill="#fef2ec"/>
<circle cx="102.1" cy="161.2" r="3.5" fill="#fef2ec"/>
<circle cx="230.8" cy="177.4" r="3.5" fill="#fdefe8"/>
<circle cx="150.0" cy="211.1" r="3.5" fill="#fef1ea"/>
<circle cx="190.1" cy="163.4" r="3.5" fill="#fef0e9"/>
<circle cx="132.7" cy="142.8" r="3.5" fill="#fdefe8"/>
<circle cx="205.9" cy="157.4" r="3.5" fill="#fef2ec"/>
<circle cx="231.2" cy="167.2" r="3.5" fill="#fef1eb"/>
<circle cx="179.3" cy="199.7" r="3.5" fill="#fdefe8"/>
<circle cx="122.2" cy="171.1" r="3.5" fill="#fef1eb"/>
<circle cx="195.6" cy="195.6" r="3.5" fill="#fef0e9"/>
<circle cx="119.4" cy="132.0" r="3.5" fill="#fef2ec"/>
<circle cx="156.8" cy="129.7" r="3.5" fill="#fef0e9"/>
<circle cx="82.3" cy="154.0" r="3.5" fill="#fef1eb"/>
<circle cx="125.1" cy="77.9" r="3.5" fill="#fef2ec"/>
<circle cx="89.7" cy="163.3" r="3.5" fill="#fef1ea"/>
<circle cx="152.0" cy="199.7" r="3.5" fill="#fef0e9"/>
<circle cx="215.3" cy="174.4" r="3.5" fill="#fef1eb"/>
<circle cx="92.7" cy="182.1" r="3.5" fill="#fef2ec"/>
<circle cx="150.3" cy="188.9" r="3.5" fill="#fef1ea"/>
<circle cx="148.1" cy="174.5" r="3.5" fill="#fef1eb"/>
<circle cx="170.3" cy="114.3" r="3.5" fill="#fef2ec"/>
<circle cx="143.1" cy="183.5" r="3.5" fill="#fef0e9"/>
<circle cx="144.4" cy="119.6" r="3.5" fill="#fdefe8"/>
<circle cx="152.6" cy="145.8" r="3.5" fill="#fef1ea"/>
<circle cx="151.1" cy="216.9" r="3.5" fill="#fdefe8"/>
<circle cx="296.4" cy="57.4" r="3.5" fill="#fef1ea"/>
<circle cx="273.8" cy="46.3" r="3.5" fill="#fef1ea"/>
<circle cx="282.4" cy="47.4" r="3.5" fill="#fef1ea"/>
<circle cx="295.6" cy="66.1" r="3.5" fill="#fef2ec"/>
<circle cx="289.2" cy="54.7" r="3.5" fill="#fef2ec"/>
<circle cx="294.3" cy="51.6" r="3.5" fill="#fef2ec"/>
<circle cx="268.0" cy="50.1" r="3.5" fill="#fef1eb"/>
<circle cx="292.6" cy="59.1" r="3.5" fill="#fdefe8"/>
<circle cx="290.7" cy="45.2" r="3.5" fill="#fef1ea"/>
<circle cx="285.6" cy="39.6" r="3.5" fill="#fef0e9"/>
<circle cx="303.3" cy="57.8" r="3.5" fill="#fdefe8"/>
<circle cx="255.6" cy="54.3" r="3.5" fill="#fef0e9"/>
<circle cx="298.5" cy="48.5" r="3.5" fill="#fef1eb"/>
<circle cx="296.8" cy="41.9" r="3.5" fill="#fdefe8"/>
<circle cx="259.9" cy="52.4" r="3.5" fill="#fef0e9"/>
<circle cx="258.3" cy="59.3" r="3.5" fill="#fef0e9"/>
<circle cx="283.2" cy="42.7" r="3.5" fill="#fef0e9"/>
<circle cx="293.5" cy="72.6" r="3.5" fill="#fef1ea"/>
<circle cx="298.4" cy="63.0" r="3.5" fill="#fef0e9"/>
<circle cx="292.8" cy="40.6" r="3.5" fill="#fef1ea"/>
<circle cx="253.2" cy="59.4" r="3.5" fill="#fef2ec"/>
<circle cx="301.9" cy="50.6" r="3.5" fill="#fef1ea"/>
<circle cx="291.4" cy="66.8" r="3.5" fill="#fef1eb"/>
<circle cx="279.1" cy="44.0" r="3.5" fill="#fef2ec"/>
<circle cx="262.7" cy="58.6" r="3.5" fill="#fef2ec"/>
<circle cx="271.7" cy="41.5" r="3.5" fill="#fdefe8"/>
<circle cx="303.1" cy="63.0" r="3.5" fill="#fef1eb"/>
<circle cx="267.8" cy="42.2" r="3.5" fill="#fef0e9"/>
<circle cx="285.2" cy="53.1" r="3.5" fill="#fef1ea"/>
<circle cx="267.9" cy="54.5" r="3.5" fill="#fef2ec"/>
<circle cx="276.3" cy="41.3" r="3.5" fill="#fdefe8"/>
<circle cx="300.8" cy="67.8" r="3.5" fill="#fef1eb"/>
<circle cx="287.5" cy="49.2" r="3.5" fill="#fef1eb"/>
<circle cx="297.9" cy="53.4" r="3.5" fill="#fef2ec"/>
<circle cx="301.4" cy="45.8" r="3.5" fill="#fdefe8"/>
<circle cx="279.6" cy="50.3" r="3.5" fill="#fdefe8"/>
<circle cx="263.8" cy="53.7" r="3.5" fill="#fef1ea"/>
<circle cx="269.6" cy="46.1" r="3.5" fill="#fdefe8"/>
<circle cx="294.9" cy="45.5" r="3.5" fill="#fef1eb"/>
<circle cx="272.0" cy="50.3" r="3.5" fill="#fef1eb"/>
<circle cx="280.1" cy="40.1" r="3.5" fill="#fef2ec"/>
<circle cx="296.4" cy="37.4" r="3.5" fill="#fef0e9"/>
<circle cx="297.2" cy="69.7" r="3.5" fill="#fdefe8"/>
<circle cx="291.3" cy="62.9" r="3.5" fill="#fef1eb"/>
<circle cx="286.8" cy="44.9" r="3.5" fill="#fef1ea"/>
<circle cx="300.8" cy="41.8" r="3.5" fill="#fdefe8"/>
<circle cx="306.9" cy="62.0" r="3.5" fill="#fdefe8"/>
<circle cx="335.3" cy="129.8" r="3.5" fill="#fef2ec"/>
<circle cx="348.9" cy="145.5" r="3.5" fill="#fef2ec"/>
<circle cx="342.0" cy="147.0" r="3.5" fill="#fef0e9"/>
<circle cx="346.5" cy="157.9" r="3.5" fill="#fef2ec"/>
<circle cx="329.4" cy="152.8" r="3.5" fill="#fef0e9"/>
<circle cx="345.8" cy="150.6" r="3.5" fill="#fef1ea"/>
<circle cx="337.1" cy="163.6" r="3.5" fill="#fdefe8"/>
<circle cx="322.9" cy="160.4" r="3.5" fill="#fef1eb"/>
<circle cx="337.6" cy="144.4" r="3.5" fill="#fef1ea"/>
<circle cx="325.7" cy="107.7" r="3.5" fill="#fef2ec"/>
<circle cx="330.9" cy="159.1" r="3.5" fill="#fef0e9"/>
<circle cx="321.3" cy="154.0" r="3.5" fill="#fef0e9"/>
<circle cx="336.5" cy="156.1" r="3.5" fill="#fef1ea"/>
<circle cx="336.9" cy="124.8" r="3.5" fill="#fef1ea"/>
<circle cx="331.3" cy="141.6" r="3.5" fill="#fdefe8"/>
<circle cx="328.5" cy="145.3" r="3.5" fill="#fdefe8"/>
<circle cx="326.6" cy="162.5" r="3.5" fill="#fef1eb"/>
<circle cx="317.8" cy="158.5" r="3.5" fill="#fef2ec"/>
<circle cx="341.8" cy="156.3" r="3.5" fill="#fef1ea"/>
<circle cx="341.1" cy="163.2" r="3.5" fill="#fdefe8"/>
<circle cx="324.3" cy="146.1" r="3.5" fill="#fef1eb"/>
<circle cx="340.9" cy="139.4" r="3.5" fill="#fef2ec"/>
<circle cx="330.9" cy="111.8" r="3.5" fill="#fef1ea"/>
<circle cx="332.4" cy="149.9" r="3.5" fill="#fef2ec"/>
<circle cx="326.8" cy="149.7" r="3.5" fill="#fdefe8"/>
<circle cx="339.5" cy="152.0" r="3.5" fill="#fdefe8"/>
<circle cx="324.5" cy="103.0" r="3.5" fill="#fef1eb"/>
<circle cx="331.5" cy="103.7" r="3.5" fill="#fef0e9"/>
<circle cx="326.1" cy="157.3" r="3.5" fill="#fef1ea"/>
<circle cx="334.8" cy="134.7" r="3.5" fill="#fef2ec"/>
<circle cx="348.1" cy="153.9" r="3.5" fill="#fef1ea"/>
<circle cx="350.4" cy="149.5" r="3.5" fill="#fef2ec"/>
<circle cx="330.0" cy="107.7" r="3.5" fill="#fef1eb"/>
<circle cx="330.1" cy="164.8" r="3.5" fill="#fef0e9"/>
<circle cx="332.8" cy="145.8" r="3.5" fill="#fef2ec"/>
<circle cx="336.0" cy="140.7" r="3.5" fill="#fef1eb"/>
<circle cx="334.0" cy="114.8" r="3.5" fill="#fef1eb"/>
<circle cx="316.8" cy="154.4" r="3.5" fill="#fdefe8"/>
<circle cx="318.6" cy="162.4" r="3.5" fill="#fef1eb"/>
<circle cx="336.4" cy="148.6" r="3.5" fill="#fdefe8"/>
<circle cx="339.7" cy="167.0" r="3.5" fill="#fef2ec"/>
<circle cx="350.8" cy="158.5" r="3.5" fill="#fef1eb"/>
<circle cx="331.9" cy="137.4" r="3.5" fill="#fef1eb"/>
<circle cx="339.1" cy="159.6" r="3.5" fill="#fef0e9"/>
<circle cx="334.8" cy="159.8" r="3.5" fill="#fef0e9"/>
<circle cx="336.2" cy="120.4" r="3.5" fill="#fef0e9"/>
<circle cx="240.6" cy="54.8" r="3.5" fill="#fef0e9"/>
<circle cx="242.3" cy="68.2" r="3.5" fill="#fdefe8"/>
<circle cx="241.0" cy="82.2" r="3.5" fill="#fef1ea"/>
<circle cx="238.8" cy="85.2" r="3.5" fill="#fef0e9"/>
<circle cx="229.6" cy="92.5" r="3.5" fill="#fef1ea"/>
<circle cx="228.9" cy="99.3" r="3.5" fill="#fef1ea"/>
<circle cx="222.5" cy="109.7" r="3.5" fill="#fef1ea"/>
<circle cx="237.1" cy="178.4" r="3.5" fill="#fdefe8"/>
<circle cx="248.5" cy="193.5" r="3.5" fill="#fef1ea"/>
<circle cx="255.7" cy="185.6" r="3.5" fill="#fdefe8"/>
<circle cx="258.4" cy="190.9" r="3.5" fill="#fdefe8"/>
<circle cx="274.8" cy="183.0" r="3.5" fill="#fef0e9"/>
<circle cx="289.2" cy="175.1" r="3.5" fill="#fdefe8"/>
<circle cx="295.1" cy="172.5" r="3.5" fill="#fef0e9"/>
<circle cx="290.7" cy="174.9" r="3.5" fill="#fdefe8"/>
<circle cx="314.6" cy="102.3" r="3.5" fill="#fdefe8"/>
<circle cx="319.5" cy="100.2" r="3.5" fill="#fef2ec"/>
<circle cx="324.5" cy="96.5" r="3.5" fill="#fdefe8"/>
<circle cx="331.0" cy="96.2" r="3.5" fill="#fef1eb"/>
<circle cx="336.5" cy="98.0" r="3.5" fill="#fef1eb"/>
<circle cx="339.5" cy="104.5" r="3.5" fill="#fef0e9"/>
<circle cx="325.4" cy="112.9" r="3.5" fill="#fdefe8"/>
<circle cx="333.5" cy="117.5" r="3.5" fill="#fef0e9"/>
<circle cx="338.5" cy="121.5" r="3.5" fill="#fdefe8"/>
<circle cx="124.8" cy="126.2" r="3.5" fill="#fde9e1"/>
<circle cx="108.5" cy="139.5" r="3.5" fill="#fde9e1"/>
<circle cx="147.6" cy="149.8" r="3.5" fill="#fde9e1"/>
<circle cx="143.2" cy="158.7" r="3.5" fill="#fde9e1"/>
<circle cx="100.4" cy="158.7" r="3.5" fill="#fde9e1"/>
<circle cx="115.2" cy="160.9" r="3.5" fill="#fde9e1"/>
<circle cx="88.6" cy="180.8" r="3.5" fill="#fde9e1"/>
<circle cx="109.3" cy="175.7" r="3.5" fill="#fde9e1"/>
<circle cx="118.9" cy="195.6" r="3.5" fill="#fde9e1"/>
<circle cx="143.2" cy="189.7" r="3.5" fill="#fde9e1"/>
<circle cx="115.9" cy="180.1" r="3.5" fill="#fde9e1"/>
<circle cx="190.1" cy="120.3" r="3.5" fill="#fde9e1"/>
<circle cx="162.5" cy="121.8" r="3.5" fill="#fde9e1"/>
<circle cx="176.3" cy="125.2" r="3.5" fill="#fde9e1"/>
<circle cx="186.1" cy="136.9" r="3.5" fill="#fde9e1"/>
<circle cx="199.4" cy="149.5" r="3.5" fill="#fde9e1"/>
<circle cx="155.9" cy="140.2" r="3.5" fill="#fde9e1"/>
<circle cx="166.5" cy="152.8" r="3.5" fill="#fde9e1"/>
<circle cx="203.9" cy="161.6" r="3.5" fill="#fde9e1"/>
<circle cx="220.1" cy="155" r="3.5" fill="#fde9e1"/>
<circle cx="192.8" cy="174.2" r="3.5" fill="#fde9e1"/>
<circle cx="156.5" cy="185.9" r="3.5" fill="#fde9e1"/>
<circle cx="159.1" cy="219.4" r="3.5" fill="#fde9e1"/>
<circle cx="166.4" cy="218.1" r="3.5" fill="#fde9e1"/>
<circle cx="142.7" cy="189.9" r="3.5" fill="#fde9e1"/>
<circle cx="115.8" cy="203.6" r="3.5" fill="#fde9e1"/>
<circle cx="120.4" cy="184.6" r="3.5" fill="#fde9e1"/>
<circle cx="170" cy="181.6" r="3.5" fill="#fde9e1"/>
<circle cx="219.6" cy="154.9" r="3.5" fill="#fde9e1"/>
<circle cx="236.8" cy="178.4" r="3.5" fill="#fde9e1"/>
<circle cx="134.2" cy="64.2" r="3.5" fill="#fde9e1"/>
<circle cx="155.6" cy="72.1" r="3.5" fill="#fde9e1"/>
<circle cx="115.5" cy="79.3" r="3.5" fill="#fde9e1"/>
<circle cx="119.7" cy="85.2" r="3.5" fill="#fde9e1"/>
<circle cx="182.8" cy="91.1" r="3.5" fill="#fde9e1"/>
<circle cx="140.7" cy="114.8" r="3.5" fill="#fde9e1"/>
<circle cx="150.3" cy="120" r="3.5" fill="#fde9e1"/>
<circle cx="190.4" cy="120" r="3.5" fill="#fde9e1"/>
<circle cx="171.4" cy="108.9" r="3.5" fill="#fde9e1"/>
<circle cx="117.5" cy="114.8" r="3.5" fill="#fde9e1"/>
<circle cx="295.2" cy="171.9" r="3.5" fill="#fde9e1"/>
<circle cx="151.6" cy="62.9" r="3.5" fill="#fde0d5"/>
<circle cx="175.3" cy="82.6" r="3.5" fill="#fde0d5"/>
<circle cx="178.8" cy="98.4" r="3.5" fill="#fde0d5"/>
<circle cx="324" cy="146.1" r="3.5" fill="#fde0d5"/>
<circle cx="332" cy="166" r="3.5" fill="#fde0d5"/>
<circle cx="342.4" cy="166" r="3.5" fill="#fde0d5"/>
<circle cx="271.5" cy="181.7" r="3.5" fill="#fde0d5"/>
<circle cx="111.5" cy="124.5" r="3.5" fill="#fdd3c5"/>
<circle cx="132.6" cy="115.2" r="3.5" fill="#fdd3c5"/>
<circle cx="120.8" cy="145.7" r="3.5" fill="#fdd3c5"/>
<circle cx="128.1" cy="155" r="3.5" fill="#fdd3c5"/>
<circle cx="140" cy="155.7" r="3.5" fill="#fdd3c5"/>
<circle cx="123.3" cy="178.6" r="3.5" fill="#fdd3c5"/>
<circle cx="140" cy="174.2" r="3.5" fill="#fdd3c5"/>
<circle cx="169.2" cy="118.1" r="3.5" fill="#fdd3c5"/>
<circle cx="182.8" cy="116.2" r="3.5" fill="#fdd3c5"/>
<circle cx="165.2" cy="132.9" r="3.5" fill="#fdd3c5"/>
<circle cx="173.3" cy="135.8" r="3.5" fill="#fdd3c5"/>
<circle cx="201.3" cy="135.8" r="3.5" fill="#fdd3c5"/>
<circle cx="203.4" cy="141" r="3.5" fill="#fdd3c5"/>
<circle cx="183.2" cy="147.6" r="3.5" fill="#fdd3c5"/>
<circle cx="191.8" cy="160.9" r="3.5" fill="#fdd3c5"/>
<circle cx="204.9" cy="169" r="3.5" fill="#fdd3c5"/>
<circle cx="224.5" cy="159.4" r="3.5" fill="#fdd3c5"/>
<circle cx="175.4" cy="172.7" r="3.5" fill="#fdd3c5"/>
<circle cx="157.4" cy="172.7" r="3.5" fill="#fdd3c5"/>
<circle cx="188.1" cy="177.1" r="3.5" fill="#fdd3c5"/>
<circle cx="170.4" cy="180.5" r="3.5" fill="#fdd3c5"/>
<circle cx="199.4" cy="184.5" r="3.5" fill="#fdd3c5"/>
<circle cx="156.6" cy="186" r="3.5" fill="#fdd3c5"/>
<circle cx="233.8" cy="184.5" r="3.5" fill="#fdd3c5"/>
<circle cx="206.8" cy="197" r="3.5" fill="#fdd3c5"/>
<circle cx="212.7" cy="197.8" r="3.5" fill="#fdd3c5"/>
<circle cx="118.4" cy="195.8" r="3.5" fill="#fdd3c5"/>
<circle cx="138.1" cy="200.4" r="3.5" fill="#fdd3c5"/>
<circle cx="134.2" cy="214.8" r="3.5" fill="#fdd3c5"/>
<circle cx="153.2" cy="193.1" r="3.5" fill="#fdd3c5"/>
<circle cx="177.3" cy="199.1" r="3.5" fill="#fdd3c5"/>
<circle cx="149.3" cy="224" r="3.5" fill="#fdd3c5"/>
<circle cx="183.4" cy="147.5" r="3.5" fill="#fdd3c5"/>
<circle cx="191.7" cy="161.2" r="3.5" fill="#fdd3c5"/>
<circle cx="204.7" cy="169.3" r="3.5" fill="#fdd3c5"/>
<circle cx="204.1" cy="161.2" r="3.5" fill="#fdd3c5"/>
<circle cx="224.5" cy="159.3" r="3.5" fill="#fdd3c5"/>
<circle cx="188" cy="177.3" r="3.5" fill="#fdd3c5"/>
<circle cx="193.2" cy="173.9" r="3.5" fill="#fdd3c5"/>
<circle cx="198.9" cy="184.2" r="3.5" fill="#fdd3c5"/>
<circle cx="233.4" cy="184.2" r="3.5" fill="#fdd3c5"/>
<circle cx="206.6" cy="196.8" r="3.5" fill="#fdd3c5"/>
<circle cx="113.5" cy="86.5" r="3.5" fill="#fdd3c5"/>
<circle cx="136.3" cy="96" r="3.5" fill="#fdd3c5"/>
<circle cx="158.9" cy="104.3" r="3.5" fill="#fdd3c5"/>
<circle cx="157.5" cy="103.5" r="3.5" fill="#fdd3c5"/>
<circle cx="132.3" cy="115.4" r="3.5" fill="#fdd3c5"/>
<circle cx="182.5" cy="116.1" r="3.5" fill="#fdd3c5"/>
<circle cx="110.9" cy="123.3" r="3.5" fill="#fdd3c5"/>
<circle cx="312.9" cy="163.8" r="3.5" fill="#fdd3c5"/>
<circle cx="261.6" cy="189.6" r="3.5" fill="#fdd3c5"/>
<circle cx="265.6" cy="187.6" r="3.5" fill="#fdd3c5"/>
<circle cx="116.6" cy="91.8" r="3.5" fill="#fcc6b4"/>
<circle cx="169.4" cy="118.1" r="3.5" fill="#fcc6b4"/>
<circle cx="214.8" cy="104.2" r="3.5" fill="#fcc6b4"/>
<circle cx="335" cy="140.2" r="3.5" fill="#fcc6b4"/>
<circle cx="316.6" cy="166" r="3.5" fill="#fcc6b4"/>
<circle cx="346.1" cy="165.3" r="3.5" fill="#fcc6b4"/>
<circle cx="303.6" cy="168.2" r="3.5" fill="#fcc6b4"/>
<circle cx="233.7" cy="184.3" r="3.5" fill="#fcc6b4"/>
<circle cx="87.4" cy="121.5" r="3.5" fill="#fcb4a0"/>
<circle cx="106.8" cy="132.1" r="3.5" fill="#fcb4a0"/>
<circle cx="142.9" cy="127.4" r="3.5" fill="#fcb4a0"/>
<circle cx="92.3" cy="167.5" r="3.5" fill="#fcb4a0"/>
<circle cx="93.5" cy="183.3" r="3.5" fill="#fcb4a0"/>
<circle cx="198" cy="144.2" r="3.5" fill="#fcb4a0"/>
<circle cx="170.4" cy="160.9" r="3.5" fill="#fcb4a0"/>
<circle cx="199.4" cy="165.8" r="3.5" fill="#fcb4a0"/>
<circle cx="156.6" cy="178.2" r="3.5" fill="#fcb4a0"/>
<circle cx="126.9" cy="208.2" r="3.5" fill="#fcb4a0"/>
<circle cx="133.5" cy="206.3" r="3.5" fill="#fcb4a0"/>
<circle cx="141.8" cy="214.4" r="3.5" fill="#fcb4a0"/>
<circle cx="151.9" cy="198.4" r="3.5" fill="#fcb4a0"/>
<circle cx="132.8" cy="180.3" r="3.5" fill="#fcb4a0"/>
<circle cx="199.7" cy="165.8" r="3.5" fill="#fcb4a0"/>
<circle cx="212.4" cy="198.8" r="3.5" fill="#fcb4a0"/>
<circle cx="339.2" cy="125.9" r="3.5" fill="#fcb4a0"/>
<circle cx="75.6" cy="176.4" r="3.5" fill="#fba690"/>
<circle cx="85.4" cy="188.9" r="3.5" fill="#fba690"/>
<circle cx="291.4" cy="65.6" r="3.5" fill="#fba690"/>
<circle cx="130.7" cy="161.3" r="3.5" fill="#fb8b71"/>
<circle cx="152.8" cy="157.2" r="3.5" fill="#fb8b71"/>
<circle cx="80.8" cy="186" r="3.5" fill="#fb8b71"/>
<circle cx="132.9" cy="178.2" r="3.5" fill="#fb8b71"/>
<circle cx="146.9" cy="195.3" r="3.5" fill="#fb8b71"/>
<circle cx="153.7" cy="157.5" r="3.5" fill="#fb8b71"/>
<circle cx="183.2" cy="161.6" r="3.5" fill="#fb8b71"/>
<circle cx="147.3" cy="195.5" r="3.5" fill="#fb8b71"/>
<circle cx="159.8" cy="194.7" r="3.5" fill="#fb8b71"/>
<circle cx="167" cy="201" r="3.5" fill="#fb8b71"/>
<circle cx="187.4" cy="202.6" r="3.5" fill="#fb8b71"/>
<circle cx="183.2" cy="161.8" r="3.5" fill="#fb8b71"/>
<circle cx="228.2" cy="189.1" r="3.5" fill="#fb8b71"/>
<circle cx="218.4" cy="194.9" r="3.5" fill="#fb8b71"/>
<circle cx="187.5" cy="202.9" r="3.5" fill="#fb8b71"/>
<circle cx="228.1" cy="188.9" r="3.5" fill="#fb8b71"/>
<circle cx="218.3" cy="194.8" r="3.5" fill="#fb8b71"/>
<circle cx="160.6" cy="167.1" r="3.5" fill="#f2664c"/>
<circle cx="160.3" cy="167.1" r="3.5" fill="#f2664c"/>
<circle cx="193.5" cy="200" r="3.5" fill="#d8321f"/>
<rect x="383.5" y="97.5" width="12.5" height="59.5" fill="url(#gRed)" stroke="#333" stroke-width="1" />
<line x1="385" y1="98.5" x2="387" y2="98.5" stroke="#ffffff" stroke-width="0.6" />
<line x1="392.5" y1="98.5" x2="394.5" y2="98.5" stroke="#ffffff" stroke-width="0.6" />
<line x1="385" y1="118" x2="387" y2="118" stroke="#ffffff" stroke-width="0.6" />
<line x1="392.5" y1="118" x2="394.5" y2="118" stroke="#ffffff" stroke-width="0.6" />
<line x1="385" y1="137.5" x2="387" y2="137.5" stroke="#ffffff" stroke-width="0.6" />
<line x1="392.5" y1="137.5" x2="394.5" y2="137.5" stroke="#ffffff" stroke-width="0.6" />
<text x="400" y="103" font-size="10" text-anchor="start" fill="#1a1a1a" font-weight="normal" >Max</text>
<text x="400" y="160.5" font-size="10" text-anchor="start" fill="#1a1a1a" font-weight="normal" >Min</text>
<path d="M42.2,241.6 L42.2,191" stroke="#333" stroke-width="0.9" fill="none"/>
<path d="M40.6,192.5 L42.2,188.5 L43.8,192.5 z" fill="#333"/>
<path d="M42.2,241.6 L106.5,241.6" stroke="#333" stroke-width="0.9" fill="none"/>
<path d="M105,240 L109,241.6 L105,243.2 z" fill="#333"/>
<text x="53.6" y="255.3" font-size="11" text-anchor="start" fill="#1a1a1a" font-weight="normal" >UMAP1</text>
<text x="0" y="0" font-size="11" text-anchor="middle" fill="#1a1a1a" transform="translate(33.2,216.3) rotate(-90)">UMAP2</text>
<text x="502" y="8.8" font-size="10" text-anchor="start" fill="#1a1a1a" font-weight="normal" >% expressed</text>
<circle cx="471.9" cy="21.9" r="4.8" fill="#111"/>
<text x="480.1" y="24.6" font-size="10" text-anchor="start" fill="#1a1a1a" font-weight="normal" >5</text>
<circle cx="499.4" cy="21.9" r="5.9" fill="#111"/>
<text x="508.7" y="24.6" font-size="10" text-anchor="start" fill="#1a1a1a" font-weight="normal" >10</text>
<circle cx="530.1" cy="21.9" r="6.6" fill="#111"/>
<text x="538.8" y="24.6" font-size="10" text-anchor="start" fill="#1a1a1a" font-weight="normal" >15</text>
<circle cx="561.3" cy="21.9" r="7.3" fill="#111"/>
<text x="571.2" y="24.6" font-size="10" text-anchor="start" fill="#1a1a1a" font-weight="normal" >20</text>
<text x="606.6" y="7.1" font-size="10" text-anchor="start" fill="#1a1a1a" font-weight="normal" >Expression</text>
<rect x="599.3" y="13.3" width="58" height="6.2" fill="url(#gExp)" stroke="#333" stroke-width="0.9" />
<circle cx="606" cy="16.4" r="0.35" fill="#fff"/>
<circle cx="621" cy="16.4" r="0.35" fill="#fff"/>
<circle cx="636" cy="16.4" r="0.35" fill="#fff"/>
<circle cx="651" cy="16.4" r="0.35" fill="#fff"/>
<text x="592.7" y="30.3" font-size="10" text-anchor="start" fill="#1a1a1a" font-weight="normal" >Min</text>
<text x="651" y="30.3" font-size="10" text-anchor="start" fill="#1a1a1a" font-weight="normal" >Max</text>
<line x1="468.6" y1="43.8" x2="468.6" y2="129.9" stroke="#222" stroke-width="1.1" />
<line x1="468.1" y1="129.4" x2="664" y2="129.4" stroke="#222" stroke-width="1.1" />
<line x1="466.5" y1="80.6" x2="469" y2="80.6" stroke="#333" stroke-width="0.8" />
<line x1="507.7" y1="129.4" x2="507.7" y2="131.6" stroke="#333" stroke-width="0.8" />
<line x1="573.2" y1="129.4" x2="573.2" y2="131.6" stroke="#333" stroke-width="0.8" />
<line x1="638.9" y1="129.4" x2="638.9" y2="131.6" stroke="#333" stroke-width="0.8" />
<circle cx="507.7" cy="82.2" r="3.5" fill="#3652a6"/>
<circle cx="573.2" cy="82.1" r="7" fill="#6a3ca6"/>
<circle cx="638.9" cy="82.4" r="9.4" fill="#e0311f"/>
<text x="506.8" y="141.4" font-size="10" text-anchor="middle" fill="#1a1a1a" font-weight="normal" >Early</text>
<text x="506.8" y="153.1" font-size="10" text-anchor="middle" fill="#1a1a1a" font-weight="normal" >BME</text>
<text x="573.4" y="141.4" font-size="10" text-anchor="middle" fill="#1a1a1a" font-weight="normal" >Early</text>
<text x="573.4" y="153.1" font-size="10" text-anchor="middle" fill="#1a1a1a" font-weight="normal" >pdECM</text>
<text x="638.9" y="141.4" font-size="10" text-anchor="middle" fill="#1a1a1a" font-weight="normal" >Late</text>
<text x="638.9" y="153.1" font-size="10" text-anchor="middle" fill="#1a1a1a" font-weight="normal" >pdECM</text>
<text x="0" y="0" font-size="10" text-anchor="middle" fill="#1a1a1a" transform="translate(459.8,80.7) rotate(-90)">MMP7</text>
<rect x="471.2" y="162.9" width="194.2" height="98.6" fill="none" stroke="#333" stroke-width="1" />
<line x1="465" y1="262" x2="465" y2="166" stroke="#333" stroke-width="0.8" />
<path d="M463.6,166.5 L465,162.8 L466.4,166.5 z" fill="#333"/>
<line x1="672.5" y1="261" x2="672.5" y2="164" stroke="#333" stroke-width="0.8" />
<path d="M671.1,164.5 L672.5,160.8 L673.9,164.5 z" fill="#333"/>
<text x="0" y="0" font-size="10" text-anchor="middle" fill="#1a1a1a" transform="translate(459.7,213.2) rotate(-90)">MMP7 expression</text>
<text x="0" y="0" font-size="10" text-anchor="middle" fill="#1a1a1a" transform="translate(676.6,212.6) rotate(90)">Motif enrichment</text>
<line x1="471.7" y1="272.4" x2="510.7" y2="272.4" stroke="#333" stroke-width="0.8" />
<line x1="628.9" y1="272.4" x2="662" y2="272.4" stroke="#333" stroke-width="0.8" />
<path d="M661.5,271 L665,272.4 L661.5,273.8 z" fill="#333"/>
<text x="523" y="275.8" font-size="10" text-anchor="start" fill="#1a1a1a" font-weight="normal" >Pseudo-ordered cells</text>
<path d="M474.4,233.8 C488,243 500,256.4 511.7,256.4 C528,256.4 538,225 546.5,207.8 C556,188 563,172 572.5,172 C584,172 592,197 601,197 C606,197 607,193.8 611,194.8 C617,196.5 621,211 626.3,211 C632,211 637,168 650.4,167.7 C657,167.6 660,171 662.3,173.4" stroke="#2f4aa8" stroke-width="2.8" fill="none"/>
<path d="M474.5,226.8 C490,224.5 505,222 520,217.5 C540,211 555,203.5 572,203 C588,203 596,206.5 606,206.5 C614,206.5 620,203 628,197.5 L662.3,170.4" stroke="#e0301e" stroke-width="2.8" fill="none"/>
<line x1="567.4" y1="239" x2="576.6" y2="239" stroke="#e0301e" stroke-width="3" />
<line x1="567.4" y1="252.9" x2="576.6" y2="252.9" stroke="#2f4aa8" stroke-width="3" />
<text x="580.3" y="242.2" font-size="8.2" text-anchor="start" fill="#1a1a1a" font-weight="normal" >MMP7 expression</text>
<text x="580.3" y="256" font-size="8.3" text-anchor="start" fill="#1a1a1a" font-weight="normal" >FOSL1/2, FOS motif</text>
<text x="-1" y="287" font-size="15.5" text-anchor="start" fill="#111" font-weight="bold" >b</text>
<text x="25.3" y="300.2" font-size="10.9" text-anchor="start" fill="#1a1a1a" font-weight="normal" >chr11</text>
<text x="165.7" y="281" font-size="9.8" text-anchor="start" fill="#1a1a1a" font-weight="normal" >Interaction significance</text>
<rect x="137.3" y="285.2" width="61.5" height="6.4" fill="url(#gMag)" stroke="#333" stroke-width="0.9" />
<rect x="235.5" y="285.2" width="61.5" height="6.4" fill="url(#gGrn)" stroke="#333" stroke-width="0.9" />
<text x="128.8" y="301.5" font-size="9.6" text-anchor="start" fill="#1a1a1a" font-weight="normal" >Low</text>
<text x="185.7" y="301.5" font-size="9.6" text-anchor="start" fill="#1a1a1a" font-weight="normal" >High</text>
<text x="226.6" y="301.5" font-size="9.6" text-anchor="start" fill="#1a1a1a" font-weight="normal" >Low</text>
<text x="283.5" y="301.5" font-size="9.6" text-anchor="start" fill="#1a1a1a" font-weight="normal" >High</text>
<rect x="22.5" y="304.6" width="387" height="9.7" fill="#858585" stroke="none" stroke-width="1" />
<rect x="22.5" y="304.6" width="20.5" height="9.7" fill="#050505" stroke="none" stroke-width="1" />
<line x1="35.05" y1="310.8" x2="35.05" y2="314.3" stroke="#bdbdbd" stroke-width="0.9" />
<line x1="44.5" y1="308" x2="44.5" y2="314.3" stroke="#cfcfcf" stroke-width="0.9" />
<line x1="53.95" y1="310.8" x2="53.95" y2="314.3" stroke="#bdbdbd" stroke-width="0.9" />
<line x1="63.4" y1="310.8" x2="63.4" y2="314.3" stroke="#bdbdbd" stroke-width="0.9" />
<line x1="72.85" y1="310.8" x2="72.85" y2="314.3" stroke="#bdbdbd" stroke-width="0.9" />
<line x1="82.3" y1="310.8" x2="82.3" y2="314.3" stroke="#bdbdbd" stroke-width="0.9" />
<line x1="91.75" y1="310.8" x2="91.75" y2="314.3" stroke="#bdbdbd" stroke-width="0.9" />
<line x1="101.19999999999999" y1="310.8" x2="101.19999999999999" y2="314.3" stroke="#bdbdbd" stroke-width="0.9" />
<line x1="110.64999999999999" y1="310.8" x2="110.64999999999999" y2="314.3" stroke="#bdbdbd" stroke-width="0.9" />
<line x1="120.1" y1="310.8" x2="120.1" y2="314.3" stroke="#bdbdbd" stroke-width="0.9" />
<line x1="129.55" y1="310.8" x2="129.55" y2="314.3" stroke="#bdbdbd" stroke-width="0.9" />
<line x1="139.0" y1="308" x2="139.0" y2="314.3" stroke="#cfcfcf" stroke-width="0.9" />
<line x1="148.45" y1="310.8" x2="148.45" y2="314.3" stroke="#bdbdbd" stroke-width="0.9" />
<line x1="157.89999999999998" y1="310.8" x2="157.89999999999998" y2="314.3" stroke="#bdbdbd" stroke-width="0.9" />
<line x1="167.35" y1="310.8" x2="167.35" y2="314.3" stroke="#bdbdbd" stroke-width="0.9" />
<line x1="176.79999999999998" y1="310.8" x2="176.79999999999998" y2="314.3" stroke="#bdbdbd" stroke-width="0.9" />
<line x1="186.25" y1="310.8" x2="186.25" y2="314.3" stroke="#bdbdbd" stroke-width="0.9" />
<line x1="195.7" y1="310.8" x2="195.7" y2="314.3" stroke="#bdbdbd" stroke-width="0.9" />
<line x1="205.14999999999998" y1="310.8" x2="205.14999999999998" y2="314.3" stroke="#bdbdbd" stroke-width="0.9" />
<line x1="214.6" y1="310.8" x2="214.6" y2="314.3" stroke="#bdbdbd" stroke-width="0.9" />
<line x1="224.04999999999998" y1="310.8" x2="224.04999999999998" y2="314.3" stroke="#bdbdbd" stroke-width="0.9" />
<line x1="233.5" y1="308" x2="233.5" y2="314.3" stroke="#cfcfcf" stroke-width="0.9" />
<line x1="242.95" y1="310.8" x2="242.95" y2="314.3" stroke="#bdbdbd" stroke-width="0.9" />
<line x1="252.39999999999998" y1="310.8" x2="252.39999999999998" y2="314.3" stroke="#bdbdbd" stroke-width="0.9" />
<line x1="261.85" y1="310.8" x2="261.85" y2="314.3" stroke="#bdbdbd" stroke-width="0.9" />
<line x1="271.29999999999995" y1="310.8" x2="271.29999999999995" y2="314.3" stroke="#bdbdbd" stroke-width="0.9" />
<line x1="280.75" y1="310.8" x2="280.75" y2="314.3" stroke="#bdbdbd" stroke-width="0.9" />
<line x1="290.2" y1="310.8" x2="290.2" y2="314.3" stroke="#bdbdbd" stroke-width="0.9" />
<line x1="299.65" y1="310.8" x2="299.65" y2="314.3" stroke="#bdbdbd" stroke-width="0.9" />
<line x1="309.09999999999997" y1="310.8" x2="309.09999999999997" y2="314.3" stroke="#bdbdbd" stroke-width="0.9" />
<line x1="318.54999999999995" y1="310.8" x2="318.54999999999995" y2="314.3" stroke="#bdbdbd" stroke-width="0.9" />
<line x1="328.0" y1="308" x2="328.0" y2="314.3" stroke="#cfcfcf" stroke-width="0.9" />
<line x1="337.45" y1="310.8" x2="337.45" y2="314.3" stroke="#bdbdbd" stroke-width="0.9" />
<line x1="346.9" y1="310.8" x2="346.9" y2="314.3" stroke="#bdbdbd" stroke-width="0.9" />
<line x1="356.34999999999997" y1="310.8" x2="356.34999999999997" y2="314.3" stroke="#bdbdbd" stroke-width="0.9" />
<line x1="365.79999999999995" y1="310.8" x2="365.79999999999995" y2="314.3" stroke="#bdbdbd" stroke-width="0.9" />
<line x1="375.25" y1="310.8" x2="375.25" y2="314.3" stroke="#bdbdbd" stroke-width="0.9" />
<line x1="384.7" y1="310.8" x2="384.7" y2="314.3" stroke="#bdbdbd" stroke-width="0.9" />
<line x1="394.15" y1="310.8" x2="394.15" y2="314.3" stroke="#bdbdbd" stroke-width="0.9" />
<line x1="403.59999999999997" y1="310.8" x2="403.59999999999997" y2="314.3" stroke="#bdbdbd" stroke-width="0.9" />
<text x="373.6" y="310.2" font-size="6.5" text-anchor="start" fill="#333" font-weight="normal" >q22.2</text>
<line x1="23" y1="314" x2="23" y2="500.9" stroke="#444" stroke-width="1.3" />
<line x1="409.1" y1="314" x2="409.1" y2="500.9" stroke="#444" stroke-width="1.3" />
<line x1="22.4" y1="366.1" x2="409.9" y2="366.1" stroke="#444" stroke-width="1.5" />
<line x1="22.4" y1="500.2" x2="409.9" y2="500.2" stroke="#3a3a3a" stroke-width="1.5" />
<text x="39" y="321.7" font-size="6.4" text-anchor="start" fill="#222" font-weight="normal" >102300K</text>
<text x="132.4" y="321.7" font-size="6.4" text-anchor="start" fill="#222" font-weight="normal" >102400K</text>
<text x="225" y="321.7" font-size="6.4" text-anchor="start" fill="#222" font-weight="normal" >102500K</text>
<text x="321" y="321.7" font-size="6.4" text-anchor="start" fill="#222" font-weight="normal" >102600K</text>
<text x="36.4" y="334.5" font-size="6.6" text-anchor="start" fill="#5dbb4f" font-weight="normal" >BIRC3</text>
<line x1="59.8" y1="332.8" x2="81.3" y2="332.8" stroke="#5dbb4f" stroke-width="1.1"/>
<path d="M58.5,330.9 L60.2,332.8 L58.5,334.7" stroke="#5dbb4f" stroke-width="1.0" fill="none"/>
<path d="M61.6,330.9 L63.3,332.8 L61.6,334.7" stroke="#5dbb4f" stroke-width="1.0" fill="none"/>
<path d="M64.6,330.9 L66.3,332.8 L64.6,334.7" stroke="#5dbb4f" stroke-width="1.0" fill="none"/>
<rect x="67.5" y="330.1" width="1.3" height="5.5" fill="#5dbb4f"/>
<rect x="69.8" y="330.3" width="1.3" height="5" fill="#5dbb4f"/>
<rect x="72.3" y="330.1" width="1.3" height="5.5" fill="#5dbb4f"/>
<rect x="74.8" y="330.3" width="1.3" height="5" fill="#5dbb4f"/>
<rect x="77.3" y="330.3" width="3.6" height="5" fill="#5dbb4f"/>
<rect x="78.3" y="329.8" width="2.2" height="6" fill="#5dbb4f"/>
<text x="36.4" y="343.4" font-size="6.6" text-anchor="start" fill="#7a36b6" font-weight="normal" >BIRC3</text>
<line x1="59.8" y1="340.9" x2="81.3" y2="340.9" stroke="#7a36b6" stroke-width="1.1"/>
<path d="M58.5,339.0 L60.2,340.9 L58.5,342.8" stroke="#7a36b6" stroke-width="1.0" fill="none"/>
<path d="M61.6,339.0 L63.3,340.9 L61.6,342.8" stroke="#7a36b6" stroke-width="1.0" fill="none"/>
<path d="M64.6,339.0 L66.3,340.9 L64.6,342.8" stroke="#7a36b6" stroke-width="1.0" fill="none"/>
<rect x="66.8" y="338.4" width="1.3" height="5" fill="#7a36b6"/>
<rect x="69.0" y="338.1" width="1.5" height="5.5" fill="#7a36b6"/>
<rect x="71.5" y="338.1" width="1.5" height="5.5" fill="#7a36b6"/>
<rect x="74.0" y="338.4" width="1.3" height="5" fill="#7a36b6"/>
<rect x="77.3" y="338.4" width="3.6" height="5" fill="#7a36b6"/>
<rect x="78.3" y="337.9" width="2.2" height="6" fill="#7a36b6"/>
<text x="65" y="352" font-size="6.6" text-anchor="start" fill="#7a36b6" font-weight="normal" >BIRC2</text>
<line x1="88.2" y1="349.6" x2="118.8" y2="349.6" stroke="#7a36b6" stroke-width="1.1"/>
<path d="M86.9,347.7 L88.6,349.6 L86.9,351.5" stroke="#7a36b6" stroke-width="1.0" fill="none"/>
<path d="M90.0,347.7 L91.7,349.6 L90.0,351.5" stroke="#7a36b6" stroke-width="1.0" fill="none"/>
<path d="M93.0,347.7 L94.7,349.6 L93.0,351.5" stroke="#7a36b6" stroke-width="1.0" fill="none"/>
<path d="M96.1,347.7 L97.8,349.6 L96.1,351.5" stroke="#7a36b6" stroke-width="1.0" fill="none"/>
<path d="M99.1,347.7 L100.8,349.6 L99.1,351.5" stroke="#7a36b6" stroke-width="1.0" fill="none"/>
<path d="M102.2,347.7 L103.9,349.6 L102.2,351.5" stroke="#7a36b6" stroke-width="1.0" fill="none"/>
<path d="M105.3,347.7 L107.0,349.6 L105.3,351.5" stroke="#7a36b6" stroke-width="1.0" fill="none"/>
<path d="M108.3,347.7 L110.0,349.6 L108.3,351.5" stroke="#7a36b6" stroke-width="1.0" fill="none"/>
<path d="M111.4,347.7 L113.1,349.6 L111.4,351.5" stroke="#7a36b6" stroke-width="1.0" fill="none"/>
<path d="M114.4,347.7 L116.1,349.6 L114.4,351.5" stroke="#7a36b6" stroke-width="1.0" fill="none"/>
<path d="M117.5,347.7 L119.2,349.6 L117.5,351.5" stroke="#7a36b6" stroke-width="1.0" fill="none"/>
<rect x="88.5" y="346.9" width="2.2" height="5.5" fill="#7a36b6"/>
<rect x="92.3" y="347.1" width="1.2" height="5" fill="#7a36b6"/>
<rect x="98.5" y="347.4" width="1.2" height="4.5" fill="#7a36b6"/>
<rect x="103.8" y="346.6" width="2.2" height="6" fill="#7a36b6"/>
<rect x="107.8" y="347.1" width="1.2" height="5" fill="#7a36b6"/>
<rect x="111.2" y="347.1" width="1.2" height="5" fill="#7a36b6"/>
<rect x="114.4" y="347.1" width="1.2" height="5" fill="#7a36b6"/>
<rect x="117.6" y="346.9" width="1.3" height="5.5" fill="#7a36b6"/>
<text x="99.9" y="334.4" font-size="6.6" text-anchor="start" fill="#7a36b6" font-weight="normal" >TMEM123</text>
<line x1="134.2" y1="332.2" x2="189.4" y2="332.2" stroke="#7a36b6" stroke-width="1.1"/>
<path d="M135.5,330.3 L133.8,332.2 L135.5,334.1" stroke="#7a36b6" stroke-width="1.0" fill="none"/>
<path d="M138.6,330.3 L136.9,332.2 L138.6,334.1" stroke="#7a36b6" stroke-width="1.0" fill="none"/>
<path d="M141.6,330.3 L139.9,332.2 L141.6,334.1" stroke="#7a36b6" stroke-width="1.0" fill="none"/>
<path d="M144.7,330.3 L143.0,332.2 L144.7,334.1" stroke="#7a36b6" stroke-width="1.0" fill="none"/>
<path d="M147.8,330.3 L146.1,332.2 L147.8,334.1" stroke="#7a36b6" stroke-width="1.0" fill="none"/>
<path d="M150.8,330.3 L149.1,332.2 L150.8,334.1" stroke="#7a36b6" stroke-width="1.0" fill="none"/>
<path d="M153.9,330.3 L152.2,332.2 L153.9,334.1" stroke="#7a36b6" stroke-width="1.0" fill="none"/>
<path d="M157.0,330.3 L155.3,332.2 L157.0,334.1" stroke="#7a36b6" stroke-width="1.0" fill="none"/>
<path d="M160.0,330.3 L158.3,332.2 L160.0,334.1" stroke="#7a36b6" stroke-width="1.0" fill="none"/>
<path d="M163.1,330.3 L161.4,332.2 L163.1,334.1" stroke="#7a36b6" stroke-width="1.0" fill="none"/>
<path d="M166.2,330.3 L164.5,332.2 L166.2,334.1" stroke="#7a36b6" stroke-width="1.0" fill="none"/>
<path d="M169.2,330.3 L167.5,332.2 L169.2,334.1" stroke="#7a36b6" stroke-width="1.0" fill="none"/>
<path d="M172.3,330.3 L170.6,332.2 L172.3,334.1" stroke="#7a36b6" stroke-width="1.0" fill="none"/>
<path d="M175.4,330.3 L173.7,332.2 L175.4,334.1" stroke="#7a36b6" stroke-width="1.0" fill="none"/>
<path d="M178.4,330.3 L176.7,332.2 L178.4,334.1" stroke="#7a36b6" stroke-width="1.0" fill="none"/>
<path d="M181.5,330.3 L179.8,332.2 L181.5,334.1" stroke="#7a36b6" stroke-width="1.0" fill="none"/>
<path d="M184.6,330.3 L182.9,332.2 L184.6,334.1" stroke="#7a36b6" stroke-width="1.0" fill="none"/>
<path d="M187.6,330.3 L185.9,332.2 L187.6,334.1" stroke="#7a36b6" stroke-width="1.0" fill="none"/>
<path d="M190.7,330.3 L189.0,332.2 L190.7,334.1" stroke="#7a36b6" stroke-width="1.0" fill="none"/>
<rect x="134.3" y="329.7" width="3.2" height="5" fill="#7a36b6"/>
<rect x="137.5" y="329.4" width="1.6" height="5.5" fill="#7a36b6"/>
<rect x="185.0" y="329.7" width="1.2" height="5" fill="#7a36b6"/>
<rect x="188.2" y="329.4" width="1.3" height="5.5" fill="#7a36b6"/>
<text x="138.6" y="342.6" font-size="6.6" text-anchor="start" fill="#5dbb4f" font-weight="normal" >LOC101928424</text>
<line x1="188.2" y1="341.1" x2="198.2" y2="341.1" stroke="#5dbb4f" stroke-width="1.1"/>
<path d="M186.9,339.2 L188.6,341.1 L186.9,343.0" stroke="#5dbb4f" stroke-width="1.0" fill="none"/>
<path d="M190.2,339.2 L191.9,341.1 L190.2,343.0" stroke="#5dbb4f" stroke-width="1.0" fill="none"/>
<path d="M193.6,339.2 L195.3,341.1 L193.6,343.0" stroke="#5dbb4f" stroke-width="1.0" fill="none"/>
<path d="M196.9,339.2 L198.6,341.1 L196.9,343.0" stroke="#5dbb4f" stroke-width="1.0" fill="none"/>
<rect x="197.4" y="339.1" width="0.9" height="4" fill="#5dbb4f"/>
<text x="151.7" y="351.2" font-size="6.6" text-anchor="start" fill="#5dbb4f" font-weight="normal" >LOC102723838</text>
<line x1="201.5" y1="349.8" x2="232.8" y2="349.8" stroke="#5dbb4f" stroke-width="1.1"/>
<path d="M200.2,347.9 L201.9,349.8 L200.2,351.7" stroke="#5dbb4f" stroke-width="1.0" fill="none"/>
<path d="M203.3,347.9 L205.0,349.8 L203.3,351.7" stroke="#5dbb4f" stroke-width="1.0" fill="none"/>
<path d="M206.5,347.9 L208.1,349.8 L206.5,351.7" stroke="#5dbb4f" stroke-width="1.0" fill="none"/>
<path d="M209.6,347.9 L211.3,349.8 L209.6,351.7" stroke="#5dbb4f" stroke-width="1.0" fill="none"/>
<path d="M212.7,347.9 L214.4,349.8 L212.7,351.7" stroke="#5dbb4f" stroke-width="1.0" fill="none"/>
<path d="M215.8,347.9 L217.5,349.8 L215.8,351.7" stroke="#5dbb4f" stroke-width="1.0" fill="none"/>
<path d="M219.0,347.9 L220.7,349.8 L219.0,351.7" stroke="#5dbb4f" stroke-width="1.0" fill="none"/>
<path d="M222.1,347.9 L223.8,349.8 L222.1,351.7" stroke="#5dbb4f" stroke-width="1.0" fill="none"/>
<path d="M225.2,347.9 L226.9,349.8 L225.2,351.7" stroke="#5dbb4f" stroke-width="1.0" fill="none"/>
<path d="M228.4,347.9 L230.1,349.8 L228.4,351.7" stroke="#5dbb4f" stroke-width="1.0" fill="none"/>
<path d="M231.5,347.9 L233.2,349.8 L231.5,351.7" stroke="#5dbb4f" stroke-width="1.0" fill="none"/>
<rect x="228.3" y="347.6" width="1" height="4.5" fill="#5dbb4f"/>
<rect x="231.9" y="347.6" width="1" height="4.5" fill="#5dbb4f"/>
<text x="229.9" y="334.4" font-size="6.6" text-anchor="start" fill="#7a36b6" font-weight="normal" >MMP7</text>
<line x1="252.2" y1="332.2" x2="263.2" y2="332.2" stroke="#7a36b6" stroke-width="1.1"/>
<rect x="252.2" y="329.4" width="1.2" height="5.5" fill="#7a36b6"/>
<rect x="254.6" y="329.4" width="1.2" height="5.5" fill="#7a36b6"/>
<rect x="257.2" y="329.4" width="1.3" height="5.5" fill="#7a36b6"/>
<rect x="259.8" y="329.4" width="1.2" height="5.5" fill="#7a36b6"/>
<rect x="262.1" y="329.4" width="1.2" height="5.5" fill="#7a36b6"/>
<text x="278.7" y="334.4" font-size="6.6" text-anchor="start" fill="#7a36b6" font-weight="normal" >MMP20</text>
<line x1="305.4" y1="332.2" x2="352.6" y2="332.2" stroke="#7a36b6" stroke-width="1.1"/>
<path d="M306.7,330.3 L305.0,332.2 L306.7,334.1" stroke="#7a36b6" stroke-width="1.0" fill="none"/>
<path d="M309.8,330.3 L308.2,332.2 L309.8,334.1" stroke="#7a36b6" stroke-width="1.0" fill="none"/>
<path d="M313.0,330.3 L311.3,332.2 L313.0,334.1" stroke="#7a36b6" stroke-width="1.0" fill="none"/>
<path d="M316.1,330.3 L314.4,332.2 L316.1,334.1" stroke="#7a36b6" stroke-width="1.0" fill="none"/>
<path d="M319.3,330.3 L317.6,332.2 L319.3,334.1" stroke="#7a36b6" stroke-width="1.0" fill="none"/>
<path d="M322.4,330.3 L320.7,332.2 L322.4,334.1" stroke="#7a36b6" stroke-width="1.0" fill="none"/>
<path d="M325.6,330.3 L323.9,332.2 L325.6,334.1" stroke="#7a36b6" stroke-width="1.0" fill="none"/>
<path d="M328.7,330.3 L327.0,332.2 L328.7,334.1" stroke="#7a36b6" stroke-width="1.0" fill="none"/>
<path d="M331.9,330.3 L330.2,332.2 L331.9,334.1" stroke="#7a36b6" stroke-width="1.0" fill="none"/>
<path d="M335.0,330.3 L333.3,332.2 L335.0,334.1" stroke="#7a36b6" stroke-width="1.0" fill="none"/>
<path d="M338.2,330.3 L336.5,332.2 L338.2,334.1" stroke="#7a36b6" stroke-width="1.0" fill="none"/>
<path d="M341.3,330.3 L339.6,332.2 L341.3,334.1" stroke="#7a36b6" stroke-width="1.0" fill="none"/>
<path d="M344.5,330.3 L342.8,332.2 L344.5,334.1" stroke="#7a36b6" stroke-width="1.0" fill="none"/>
<path d="M347.6,330.3 L345.9,332.2 L347.6,334.1" stroke="#7a36b6" stroke-width="1.0" fill="none"/>
<path d="M350.8,330.3 L349.1,332.2 L350.8,334.1" stroke="#7a36b6" stroke-width="1.0" fill="none"/>
<path d="M353.9,330.3 L352.2,332.2 L353.9,334.1" stroke="#7a36b6" stroke-width="1.0" fill="none"/>
<rect x="305.4" y="329.4" width="1.3" height="5.5" fill="#7a36b6"/>
<rect x="307.3" y="329.4" width="1.3" height="5.5" fill="#7a36b6"/>
<rect x="321.4" y="329.2" width="2" height="6" fill="#7a36b6"/>
<rect x="334.0" y="329.4" width="1.3" height="5.5" fill="#7a36b6"/>
<rect x="336.5" y="329.4" width="1.3" height="5.5" fill="#7a36b6"/>
<rect x="338.8" y="329.2" width="1.6" height="6" fill="#7a36b6"/>
<rect x="341.2" y="329.4" width="1.3" height="5.5" fill="#7a36b6"/>
<rect x="351.4" y="329.4" width="1.3" height="5.5" fill="#7a36b6"/>
<text x="23.6" y="364.3" font-size="8" text-anchor="start" fill="#3fa84a" font-weight="normal" >RE3</text>
<text x="46" y="364.3" font-size="8" text-anchor="start" fill="#3fa84a" font-weight="normal" >RE2</text>
<text x="225.5" y="364" font-size="8" text-anchor="start" fill="#3fa84a" font-weight="normal" >RE1</text>
<path d="M82.6,366.4 C131.7,472.1 215.4,472.1 264.5,366.4" stroke="#e6a9df" stroke-width="1.5" fill="none"/>
<path d="M49.6,366.4 C107.6,489.9 206.5,489.9 264.5,366.4" stroke="#52a046" stroke-width="1.5" fill="none"/>
<path d="M31.3,366.4 C94.3,502.4 201.5,502.4 264.5,366.4" stroke="#b225a5" stroke-width="1.5" fill="none"/>
<path d="M29.6,366.4 C93.0,501.9 201.1,501.9 264.5,366.4" stroke="#52a046" stroke-width="1.4" fill="none"/>
<path d="M209.8,366.4 C224.6,398.4 249.7,398.4 264.5,366.4" stroke="#b225a5" stroke-width="1.4" fill="none"/>
<path d="M231.5,366.4 C240.4,386.0 255.6,386.0 264.5,366.4" stroke="#52a046" stroke-width="1.3" fill="none"/>
<path d="M264.5,366.4 C285.7,413.3 321.8,413.3 343,366.4" stroke="#e6a9df" stroke-width="1.2" fill="none"/>
<path d="M264.5,366.4 C283.5,407.7 316.0,407.7 335,366.4" stroke="#b225a5" stroke-width="1.4" fill="none"/>
<path d="M264.5,366.4 C282.9,407.1 314.3,407.1 332.7,366.4" stroke="#b225a5" stroke-width="1.4" fill="none"/>
<path d="M264.5,366.4 C282.1,404.7 312.0,404.7 329.6,366.4" stroke="#b225a5" stroke-width="1.4" fill="none"/>
<path d="M264.5,366.4 C273.1,386.5 287.6,386.5 296.2,366.4" stroke="#b225a5" stroke-width="1.3" fill="none"/>
<path d="M264.5,366.4 C270.4,377.3 280.5,377.3 286.4,366.4" stroke="#e6a9df" stroke-width="1.1" fill="none"/>
<path d="M264.5,366.4 C269.5,379.2 278.0,379.2 283,366.4" stroke="#b225a5" stroke-width="1.3" fill="none"/>
<text x="166.1" y="495.6" font-size="10" text-anchor="start" fill="#1a1a1a" font-weight="normal" >Chromatin interactions</text>
<rect x="37.2" y="515.6" width="118.4" height="68.5" fill="none" stroke="#777" stroke-width="1.1" />
<line x1="38.5" y1="581.2" x2="155.5" y2="581.2" stroke="#333" stroke-width="1" stroke-dasharray="2.3,2.8"/>
<polyline points="44.5,581 97.4,566.3 149.5,570.2" stroke="#4fb98f" stroke-width="2.2" fill="none" stroke-linejoin="round"/>
<polyline points="44.5,581 97.4,562.6 149.5,568" stroke="#3a6a8c" stroke-width="2.2" fill="none" stroke-linejoin="round"/>
<polyline points="44.5,581 97.4,553.1 149.5,575.7" stroke="#f1d23a" stroke-width="2.2" fill="none" stroke-linejoin="round"/>
<polyline points="44.5,581 97.4,524.7 149.5,518.8" stroke="#3d1f55" stroke-width="2.2" fill="none" stroke-linejoin="round"/>
<circle cx="44.5" cy="581" r="1.9" fill="#111"/>
<path d="M95.7,525.9000000000001 L97.4,522.9000000000001 L99.10000000000001,525.9000000000001 z" fill="#111"/>
<path d="M95.7,554.3000000000001 L97.4,551.3000000000001 L99.10000000000001,554.3000000000001 z" fill="#111"/>
<path d="M95.7,563.8000000000001 L97.4,560.8000000000001 L99.10000000000001,563.8000000000001 z" fill="#111"/>
<path d="M95.7,567.5 L97.4,564.5 L99.10000000000001,567.5 z" fill="#111"/>
<rect x="148.0" y="517.3" width="3" height="3" fill="#111" stroke="none" stroke-width="1" />
<rect x="148.0" y="566.5" width="3" height="3" fill="#111" stroke="none" stroke-width="1" />
<rect x="148.0" y="568.7" width="3" height="3" fill="#111" stroke="none" stroke-width="1" />
<rect x="148.0" y="574.2" width="3" height="3" fill="#111" stroke="none" stroke-width="1" />
<text x="0" y="0" font-size="8.2" text-anchor="middle" fill="#1a1a1a" transform="translate(32.3,551.8) rotate(-90)">Relative accessibility</text>
<line x1="37.4" y1="592.1" x2="56" y2="592.1" stroke="#999" stroke-width="1.1" />
<line x1="135" y1="592.1" x2="154" y2="592.1" stroke="#999" stroke-width="1.1" />
<path d="M153.5,590.7 L156.5,591.9 L153.5,593.1 z" fill="#333"/>
<text x="56.6" y="594.6" font-size="8.3" text-anchor="start" fill="#1a1a1a" font-weight="normal" >Pseudo-ordered cells</text>
<circle cx="164" cy="521" r="2.7" fill="#111"/>
<path d="M160.3,536 L164,529.7 L167.7,536 z" fill="#111"/>
<rect x="161.4" y="542" width="5.2" height="5.2" fill="#111" stroke="none" stroke-width="1" />
<text x="171" y="523.7" font-size="8.3" text-anchor="start" fill="#1a1a1a" font-weight="normal" >Early BME</text>
<text x="171.5" y="535.3" font-size="8.3" text-anchor="start" fill="#1a1a1a" font-weight="normal" >Early pdECM</text>
<text x="171" y="547.1" font-size="8.3" text-anchor="start" fill="#1a1a1a" font-weight="normal" >Late pdECM</text>
<rect x="161.2" y="562.7" width="6.8" height="4" fill="#f1d23a" stroke="none" stroke-width="1" />
<text x="171.5" y="567" font-size="8.3" text-anchor="start" fill="#1a1a1a" font-weight="normal" >RE1</text>
<rect x="161.2" y="573.4" width="6.8" height="4" fill="#4fb98f" stroke="none" stroke-width="1" />
<text x="171.5" y="578" font-size="8.3" text-anchor="start" fill="#1a1a1a" font-weight="normal" >RE2</text>
<rect x="196.2" y="562.7" width="6.8" height="4" fill="#3a6a8c" stroke="none" stroke-width="1" />
<text x="206.5" y="567" font-size="8.3" text-anchor="start" fill="#1a1a1a" font-weight="normal" >RE3</text>
<rect x="196.2" y="573.4" width="6.8" height="4" fill="#3d1f55" stroke="none" stroke-width="1" />
<text x="206.5" y="578" font-size="8.3" text-anchor="start" fill="#1a1a1a" font-weight="normal" >Promoter</text>
<rect x="250.8" y="511.5" width="129.39999999999998" height="21.899999999999977" fill="none" stroke="#2a2a2a" stroke-width="1.3" />
<text x="0" y="0" font-size="20" font-weight="bold" fill="#2a3fb0" transform="translate(255.20,530.10) scale(0.564,0.137)">C</text>
<text x="0" y="0" font-size="20" font-weight="bold" fill="#3fb53a" transform="translate(255.20,528.18) scale(0.564,0.343)">A</text>
<text x="0" y="0" font-size="20" font-weight="bold" fill="#d0201f" transform="translate(255.20,523.38) scale(0.667,0.229)">T</text>
<text x="0" y="0" font-size="20" font-weight="bold" fill="#f0961e" transform="translate(255.20,520.18) scale(0.524,0.434)">G</text>
<text x="0" y="0" font-size="20" font-weight="bold" fill="#2a3fb0" transform="translate(263.35,530.10) scale(0.564,0.137)">C</text>
<text x="0" y="0" font-size="20" font-weight="bold" fill="#d0201f" transform="translate(263.35,528.18) scale(0.667,0.251)">T</text>
<text x="0" y="0" font-size="20" font-weight="bold" fill="#3fb53a" transform="translate(263.35,524.66) scale(0.564,0.297)">A</text>
<text x="0" y="0" font-size="20" font-weight="bold" fill="#f0961e" transform="translate(263.35,520.50) scale(0.524,0.457)">G</text>
<text x="0" y="0" font-size="20" font-weight="bold" fill="#2a3fb0" transform="translate(271.50,530.10) scale(0.564,0.160)">C</text>
<text x="0" y="0" font-size="20" font-weight="bold" fill="#f0961e" transform="translate(271.50,527.86) scale(0.524,0.297)">G</text>
<text x="0" y="0" font-size="20" font-weight="bold" fill="#3fb53a" transform="translate(271.50,523.70) scale(0.564,0.686)">A</text>
<text x="0" y="0" font-size="20" font-weight="bold" fill="#d0201f" transform="translate(279.65,530.10) scale(0.667,1.143)">T</text>
<text x="0" y="0" font-size="20" font-weight="bold" fill="#f0961e" transform="translate(287.80,530.10) scale(0.524,1.143)">G</text>
<text x="0" y="0" font-size="20" font-weight="bold" fill="#3fb53a" transform="translate(295.95,530.10) scale(0.564,1.143)">A</text>
<text x="0" y="0" font-size="20" font-weight="bold" fill="#f0961e" transform="translate(304.10,530.10) scale(0.524,0.343)">G</text>
<text x="0" y="0" font-size="20" font-weight="bold" fill="#2a3fb0" transform="translate(304.10,525.30) scale(0.564,0.754)">C</text>
<text x="0" y="0" font-size="20" font-weight="bold" fill="#d0201f" transform="translate(312.25,530.10) scale(0.667,1.143)">T</text>
<text x="0" y="0" font-size="20" font-weight="bold" fill="#2a3fb0" transform="translate(320.40,530.10) scale(0.564,1.143)">C</text>
<text x="0" y="0" font-size="20" font-weight="bold" fill="#3fb53a" transform="translate(328.55,530.10) scale(0.564,1.143)">A</text>
<text x="0" y="0" font-size="20" font-weight="bold" fill="#f0961e" transform="translate(336.70,530.10) scale(0.524,0.160)">G</text>
<text x="0" y="0" font-size="20" font-weight="bold" fill="#2a3fb0" transform="translate(336.70,527.86) scale(0.564,0.183)">C</text>
<text x="0" y="0" font-size="20" font-weight="bold" fill="#d0201f" transform="translate(336.70,525.30) scale(0.667,0.709)">T</text>
<text x="0" y="0" font-size="20" font-weight="bold" fill="#f0961e" transform="translate(344.85,530.10) scale(0.524,0.160)">G</text>
<text x="0" y="0" font-size="20" font-weight="bold" fill="#3fb53a" transform="translate(344.85,527.86) scale(0.564,0.229)">A</text>
<text x="0" y="0" font-size="20" font-weight="bold" fill="#d0201f" transform="translate(344.85,524.66) scale(0.667,0.229)">T</text>
<text x="0" y="0" font-size="20" font-weight="bold" fill="#2a3fb0" transform="translate(344.85,521.46) scale(0.564,0.411)">C</text>
<text x="384" y="524" font-size="8.3" text-anchor="start" fill="#1a1a1a" font-weight="normal" >Fra2</text>
<rect x="250.8" y="535.7" width="116.89999999999998" height="21.799999999999955" fill="none" stroke="#2a2a2a" stroke-width="1.3" />
<text x="0" y="0" font-size="20" font-weight="bold" fill="#3fb53a" transform="translate(255.20,554.20) scale(0.564,0.320)">A</text>
<text x="0" y="0" font-size="20" font-weight="bold" fill="#2a3fb0" transform="translate(255.20,549.72) scale(0.564,0.229)">C</text>
<text x="0" y="0" font-size="20" font-weight="bold" fill="#d0201f" transform="translate(255.20,546.52) scale(0.667,0.251)">T</text>
<text x="0" y="0" font-size="20" font-weight="bold" fill="#f0961e" transform="translate(255.20,543.00) scale(0.524,0.343)">G</text>
<text x="0" y="0" font-size="20" font-weight="bold" fill="#2a3fb0" transform="translate(263.35,554.20) scale(0.564,0.251)">C</text>
<text x="0" y="0" font-size="20" font-weight="bold" fill="#d0201f" transform="translate(263.35,550.68) scale(0.667,0.251)">T</text>
<text x="0" y="0" font-size="20" font-weight="bold" fill="#3fb53a" transform="translate(263.35,547.16) scale(0.564,0.297)">A</text>
<text x="0" y="0" font-size="20" font-weight="bold" fill="#f0961e" transform="translate(263.35,543.00) scale(0.524,0.343)">G</text>
<text x="0" y="0" font-size="20" font-weight="bold" fill="#2a3fb0" transform="translate(271.50,554.20) scale(0.564,0.183)">C</text>
<text x="0" y="0" font-size="20" font-weight="bold" fill="#f0961e" transform="translate(271.50,551.64) scale(0.524,0.274)">G</text>
<text x="0" y="0" font-size="20" font-weight="bold" fill="#3fb53a" transform="translate(271.50,547.80) scale(0.564,0.571)">A</text>
<text x="0" y="0" font-size="20" font-weight="bold" fill="#f0961e" transform="translate(279.65,554.20) scale(0.524,0.046)">G</text>
<text x="0" y="0" font-size="20" font-weight="bold" fill="#d0201f" transform="translate(279.65,553.56) scale(0.667,1.097)">T</text>
<text x="0" y="0" font-size="20" font-weight="bold" fill="#d0201f" transform="translate(287.80,554.20) scale(0.667,0.114)">T</text>
<text x="0" y="0" font-size="20" font-weight="bold" fill="#f0961e" transform="translate(287.80,552.60) scale(0.524,1.029)">G</text>
<text x="0" y="0" font-size="20" font-weight="bold" fill="#2a3fb0" transform="translate(295.95,554.20) scale(0.564,0.057)">C</text>
<text x="0" y="0" font-size="20" font-weight="bold" fill="#3fb53a" transform="translate(295.95,553.40) scale(0.564,1.086)">A</text>
<text x="0" y="0" font-size="20" font-weight="bold" fill="#d0201f" transform="translate(304.10,554.20) scale(0.667,0.183)">T</text>
<text x="0" y="0" font-size="20" font-weight="bold" fill="#2a3fb0" transform="translate(304.10,551.64) scale(0.564,0.411)">C</text>
<text x="0" y="0" font-size="20" font-weight="bold" fill="#f0961e" transform="translate(304.10,545.88) scale(0.524,0.457)">G</text>
<text x="0" y="0" font-size="20" font-weight="bold" fill="#3fb53a" transform="translate(312.25,554.20) scale(0.564,0.046)">A</text>
<text x="0" y="0" font-size="20" font-weight="bold" fill="#d0201f" transform="translate(312.25,553.56) scale(0.667,1.097)">T</text>
<text x="0" y="0" font-size="20" font-weight="bold" fill="#3fb53a" transform="translate(320.40,554.20) scale(0.564,0.137)">A</text>
<text x="0" y="0" font-size="20" font-weight="bold" fill="#2a3fb0" transform="translate(320.40,552.28) scale(0.564,1.006)">C</text>
<text x="0" y="0" font-size="20" font-weight="bold" fill="#f0961e" transform="translate(328.55,554.20) scale(0.524,0.046)">G</text>
<text x="0" y="0" font-size="20" font-weight="bold" fill="#3fb53a" transform="translate(328.55,553.56) scale(0.564,1.097)">A</text>
<text x="0" y="0" font-size="20" font-weight="bold" fill="#f0961e" transform="translate(336.70,554.20) scale(0.524,0.160)">G</text>
<text x="0" y="0" font-size="20" font-weight="bold" fill="#3fb53a" transform="translate(336.70,551.96) scale(0.564,0.160)">A</text>
<text x="0" y="0" font-size="20" font-weight="bold" fill="#2a3fb0" transform="translate(336.70,549.72) scale(0.564,0.251)">C</text>
<text x="0" y="0" font-size="20" font-weight="bold" fill="#d0201f" transform="translate(336.70,546.20) scale(0.667,0.503)">T</text>
<text x="0" y="0" font-size="20" font-weight="bold" fill="#f0961e" transform="translate(344.85,554.20) scale(0.524,0.183)">G</text>
<text x="0" y="0" font-size="20" font-weight="bold" fill="#d0201f" transform="translate(344.85,551.64) scale(0.667,0.206)">T</text>
<text x="0" y="0" font-size="20" font-weight="bold" fill="#3fb53a" transform="translate(344.85,548.76) scale(0.564,0.343)">A</text>
<text x="0" y="0" font-size="20" font-weight="bold" fill="#2a3fb0" transform="translate(344.85,543.96) scale(0.564,0.343)">C</text>
<text x="371.6" y="549" font-size="8.3" text-anchor="start" fill="#1a1a1a" font-weight="normal" >Fra1</text>
<rect x="250.8" y="560.1" width="112.59999999999997" height="22.399999999999977" fill="none" stroke="#2a2a2a" stroke-width="1.3" />
<text x="0" y="0" font-size="20" font-weight="bold" fill="#3fb53a" transform="translate(255.20,579.20) scale(0.564,0.229)">A</text>
<text x="0" y="0" font-size="20" font-weight="bold" fill="#2a3fb0" transform="translate(255.20,576.00) scale(0.564,0.251)">C</text>
<text x="0" y="0" font-size="20" font-weight="bold" fill="#d0201f" transform="translate(255.20,572.48) scale(0.667,0.251)">T</text>
<text x="0" y="0" font-size="20" font-weight="bold" fill="#f0961e" transform="translate(255.20,568.96) scale(0.524,0.411)">G</text>
<text x="0" y="0" font-size="20" font-weight="bold" fill="#2a3fb0" transform="translate(263.35,579.20) scale(0.564,0.206)">C</text>
<text x="0" y="0" font-size="20" font-weight="bold" fill="#3fb53a" transform="translate(263.35,576.32) scale(0.564,0.229)">A</text>
<text x="0" y="0" font-size="20" font-weight="bold" fill="#d0201f" transform="translate(263.35,573.12) scale(0.667,0.229)">T</text>
<text x="0" y="0" font-size="20" font-weight="bold" fill="#f0961e" transform="translate(263.35,569.92) scale(0.524,0.434)">G</text>
<text x="0" y="0" font-size="20" font-weight="bold" fill="#2a3fb0" transform="translate(271.50,579.20) scale(0.564,0.229)">C</text>
<text x="0" y="0" font-size="20" font-weight="bold" fill="#f0961e" transform="translate(271.50,576.00) scale(0.524,0.297)">G</text>
<text x="0" y="0" font-size="20" font-weight="bold" fill="#3fb53a" transform="translate(271.50,571.84) scale(0.564,0.526)">A</text>
<text x="0" y="0" font-size="20" font-weight="bold" fill="#f0961e" transform="translate(279.65,579.20) scale(0.524,0.046)">G</text>
<text x="0" y="0" font-size="20" font-weight="bold" fill="#d0201f" transform="translate(279.65,578.56) scale(0.667,1.097)">T</text>
<text x="0" y="0" font-size="20" font-weight="bold" fill="#d0201f" transform="translate(287.80,579.20) scale(0.667,0.137)">T</text>
<text x="0" y="0" font-size="20" font-weight="bold" fill="#f0961e" transform="translate(287.80,577.28) scale(0.524,1.006)">G</text>
<text x="0" y="0" font-size="20" font-weight="bold" fill="#3fb53a" transform="translate(295.95,579.20) scale(0.564,0.046)">A</text>
<text x="0" y="0" font-size="20" font-weight="bold" fill="#3fb53a" transform="translate(295.95,578.56) scale(0.564,1.097)">A</text>
<text x="0" y="0" font-size="20" font-weight="bold" fill="#3fb53a" transform="translate(304.10,579.20) scale(0.564,0.183)">A</text>
<text x="0" y="0" font-size="20" font-weight="bold" fill="#2a3fb0" transform="translate(304.10,576.64) scale(0.564,0.366)">C</text>
<text x="0" y="0" font-size="20" font-weight="bold" fill="#f0961e" transform="translate(304.10,571.52) scale(0.524,0.480)">G</text>
<text x="0" y="0" font-size="20" font-weight="bold" fill="#3fb53a" transform="translate(312.25,579.20) scale(0.564,0.046)">A</text>
<text x="0" y="0" font-size="20" font-weight="bold" fill="#d0201f" transform="translate(312.25,578.56) scale(0.667,1.097)">T</text>
<text x="0" y="0" font-size="20" font-weight="bold" fill="#3fb53a" transform="translate(320.40,579.20) scale(0.564,0.114)">A</text>
<text x="0" y="0" font-size="20" font-weight="bold" fill="#2a3fb0" transform="translate(320.40,577.60) scale(0.564,1.029)">C</text>
<text x="0" y="0" font-size="20" font-weight="bold" fill="#f0961e" transform="translate(328.55,579.20) scale(0.524,0.046)">G</text>
<text x="0" y="0" font-size="20" font-weight="bold" fill="#3fb53a" transform="translate(328.55,578.56) scale(0.564,1.097)">A</text>
<text x="0" y="0" font-size="20" font-weight="bold" fill="#3fb53a" transform="translate(336.70,579.20) scale(0.564,0.206)">A</text>
<text x="0" y="0" font-size="20" font-weight="bold" fill="#2a3fb0" transform="translate(336.70,576.32) scale(0.564,0.343)">C</text>
<text x="0" y="0" font-size="20" font-weight="bold" fill="#d0201f" transform="translate(336.70,571.52) scale(0.667,0.457)">T</text>
<text x="0" y="0" font-size="20" font-weight="bold" fill="#3fb53a" transform="translate(344.85,579.20) scale(0.564,0.229)">A</text>
<text x="0" y="0" font-size="20" font-weight="bold" fill="#f0961e" transform="translate(344.85,576.00) scale(0.524,0.229)">G</text>
<text x="0" y="0" font-size="20" font-weight="bold" fill="#d0201f" transform="translate(344.85,572.80) scale(0.667,0.274)">T</text>
<text x="0" y="0" font-size="20" font-weight="bold" fill="#2a3fb0" transform="translate(344.85,568.96) scale(0.564,0.343)">C</text>
<text x="366.8" y="572.6" font-size="8.3" text-anchor="start" fill="#1a1a1a" font-weight="normal" >Fos</text>
<line x1="357.9" y1="511" x2="357.9" y2="584" stroke="#666" stroke-width="0.8" stroke-dasharray="1.6,1.6"/>
<line x1="250" y1="586.1" x2="386" y2="586.1" stroke="#777" stroke-width="1.2" />
<line x1="250.2" y1="586" x2="250.2" y2="587.3" stroke="#555" stroke-width="0.9" />
<text x="250.2" y="596.6" font-size="8.4" text-anchor="middle" fill="#1a1a1a" font-weight="normal" >0</text>
<line x1="282.5" y1="586" x2="282.5" y2="587.3" stroke="#555" stroke-width="0.9" />
<text x="282.5" y="596.6" font-size="8.4" text-anchor="middle" fill="#1a1a1a" font-weight="normal" >1</text>
<line x1="314.79999999999995" y1="586" x2="314.79999999999995" y2="587.3" stroke="#555" stroke-width="0.9" />
<text x="314.79999999999995" y="596.6" font-size="8.4" text-anchor="middle" fill="#1a1a1a" font-weight="normal" >2</text>
<line x1="347.09999999999997" y1="586" x2="347.09999999999997" y2="587.3" stroke="#555" stroke-width="0.9" />
<text x="347.09999999999997" y="596.6" font-size="8.4" text-anchor="middle" fill="#1a1a1a" font-weight="normal" >3</text>
<line x1="379.4" y1="586" x2="379.4" y2="587.3" stroke="#555" stroke-width="0.9" />
<text x="379.4" y="596.6" font-size="8.4" text-anchor="middle" fill="#1a1a1a" font-weight="normal" >4</text>
<text x="274.2" y="606.6" font-size="8.3" fill="#1a1a1a">−log2(adjusted <tspan font-style="italic">p</tspan>−value)</text>
<text x="432.3" y="304.7" font-size="16.3" text-anchor="start" fill="#111" font-weight="bold" >c</text>
<line x1="468.7" y1="307.9" x2="468.7" y2="547" stroke="#262626" stroke-width="1.6" />
<line x1="467.9" y1="546.2" x2="672.8" y2="546.2" stroke="#262626" stroke-width="1.6" />
<line x1="465.6" y1="535" x2="469" y2="535" stroke="#222" stroke-width="1.1" />
<text x="461.2" y="538.7" font-size="10" text-anchor="end" fill="#1a1a1a" font-weight="normal" >0</text>
<line x1="465.6" y1="475.1" x2="469" y2="475.1" stroke="#222" stroke-width="1.1" />
<text x="461.2" y="478.8" font-size="10" text-anchor="end" fill="#1a1a1a" font-weight="normal" >5</text>
<line x1="465.6" y1="415.2" x2="469" y2="415.2" stroke="#222" stroke-width="1.1" />
<text x="461.2" y="418.9" font-size="10" text-anchor="end" fill="#1a1a1a" font-weight="normal" >10</text>
<line x1="465.6" y1="355.3" x2="469" y2="355.3" stroke="#222" stroke-width="1.1" />
<text x="461.2" y="359.0" font-size="10" text-anchor="end" fill="#1a1a1a" font-weight="normal" >15</text>
<line x1="481" y1="546.2" x2="481" y2="549.6" stroke="#262626" stroke-width="1.1" />
<text x="481" y="563.4" font-size="10" text-anchor="middle" fill="#1a1a1a" font-weight="normal" >0</text>
<line x1="531.8" y1="546.2" x2="531.8" y2="549.6" stroke="#262626" stroke-width="1.1" />
<text x="531.8" y="563.4" font-size="10" text-anchor="middle" fill="#1a1a1a" font-weight="normal" >2</text>
<line x1="583.3" y1="546.2" x2="583.3" y2="549.6" stroke="#262626" stroke-width="1.1" />
<text x="583.3" y="563.4" font-size="10" text-anchor="middle" fill="#1a1a1a" font-weight="normal" >4</text>
<line x1="634.9" y1="546.2" x2="634.9" y2="549.6" stroke="#262626" stroke-width="1.1" />
<text x="634.9" y="563.4" font-size="10" text-anchor="middle" fill="#1a1a1a" font-weight="normal" >5</text>
<text x="562.4" y="578.6" font-size="10" text-anchor="start" fill="#1a1a1a" font-weight="normal" >Day</text>
<text x="0" y="0" font-size="10" text-anchor="middle" fill="#1a1a1a" transform="translate(442.2,426.2) rotate(-90)">MMP7 concentration (ng/ml)</text>
<polyline points="480.6,535 557.2,514.6 609.5,466.9 660.7,350.8" stroke="#4d7a9c" stroke-width="4" fill="none" stroke-linejoin="round"/>
<line x1="660.7" y1="319" x2="660.7" y2="380.4" stroke="#4d7a9c" stroke-width="1.3" />
<line x1="658.1" y1="319" x2="663.3000000000001" y2="319" stroke="#4d7a9c" stroke-width="1.3" />
<line x1="658.1" y1="380.4" x2="663.3000000000001" y2="380.4" stroke="#4d7a9c" stroke-width="1.3" />
<line x1="557.2" y1="511.4" x2="557.2" y2="517.6" stroke="#4d7a9c" stroke-width="1.3" />
<line x1="554.6" y1="511.4" x2="559.8000000000001" y2="511.4" stroke="#4d7a9c" stroke-width="1.3" />
<line x1="554.6" y1="517.6" x2="559.8000000000001" y2="517.6" stroke="#4d7a9c" stroke-width="1.3" />
<polyline points="480.6,535 557,521.9 609.5,522.7 660.7,438.8" stroke="#a9c3d6" stroke-width="4" fill="none" stroke-linejoin="round"/>
<line x1="660.7" y1="419.7" x2="660.7" y2="453.7" stroke="#a9c3d6" stroke-width="1.3" />
<line x1="658.1" y1="419.7" x2="663.3000000000001" y2="419.7" stroke="#a9c3d6" stroke-width="1.3" />
<line x1="658.1" y1="453.7" x2="663.3000000000001" y2="453.7" stroke="#a9c3d6" stroke-width="1.3" />
<line x1="609.5" y1="515.4" x2="609.5" y2="528.5" stroke="#a9c3d6" stroke-width="1.3" />
<line x1="606.9" y1="515.4" x2="612.1" y2="515.4" stroke="#a9c3d6" stroke-width="1.3" />
<line x1="606.9" y1="528.5" x2="612.1" y2="528.5" stroke="#a9c3d6" stroke-width="1.3" />
<polyline points="480.6,535 557,535 609.5,528.5 660.7,510.6" stroke="#7c3829" stroke-width="4" fill="none" stroke-linejoin="round"/>
<line x1="660.7" y1="505.7" x2="660.7" y2="515.4" stroke="#7c3829" stroke-width="1.3" />
<line x1="658.1" y1="505.7" x2="663.3000000000001" y2="505.7" stroke="#7c3829" stroke-width="1.3" />
<line x1="658.1" y1="515.4" x2="663.3000000000001" y2="515.4" stroke="#7c3829" stroke-width="1.3" />
<line x1="484.4" y1="317.2" x2="497.7" y2="317.2" stroke="#7c3829" stroke-width="3" />
<line x1="484.4" y1="333.7" x2="497.7" y2="333.7" stroke="#4d7a9c" stroke-width="3" />
<line x1="484.4" y1="350.4" x2="497.7" y2="350.4" stroke="#a9c3d6" stroke-width="3" />
<text x="502.8" y="319.8" font-size="10" text-anchor="start" fill="#1a1a1a" font-weight="normal" >BME-O</text>
<text x="502.8" y="336.6" font-size="10" text-anchor="start" fill="#1a1a1a" font-weight="normal" >pdECM-O</text>
<text x="502.8" y="353.5" font-size="10" text-anchor="start" fill="#1a1a1a" font-weight="normal" >pdECM-O + T-5224 50μM</text>
<polygon points="607.15,507.30 607.68,508.57 609.05,508.68 608.01,509.58 608.33,510.92 607.15,510.20 605.97,510.92 606.29,509.58 605.25,508.68 606.62,508.57" fill="#222"/>
<polygon points="611.25,507.30 611.78,508.57 613.15,508.68 612.11,509.58 612.43,510.92 611.25,510.20 610.07,510.92 610.39,509.58 609.35,508.68 610.72,508.57" fill="#222"/>
<polygon points="604.70,536.30 605.23,537.57 606.60,537.68 605.56,538.58 605.88,539.92 604.70,539.20 603.52,539.92 603.84,538.58 602.80,537.68 604.17,537.57" fill="#222"/>
<polygon points="608.80,536.30 609.33,537.57 610.70,537.68 609.66,538.58 609.98,539.92 608.80,539.20 607.62,539.92 607.94,538.58 606.90,537.68 608.27,537.57" fill="#222"/>
<polygon points="612.90,536.30 613.43,537.57 614.80,537.68 613.76,538.58 614.08,539.92 612.90,539.20 611.72,539.92 612.04,538.58 611.00,537.68 612.37,537.57" fill="#222"/>
<polygon points="656.40,520.00 656.93,521.27 658.30,521.38 657.26,522.28 657.58,523.62 656.40,522.90 655.22,523.62 655.54,522.28 654.50,521.38 655.87,521.27" fill="#222"/>
<polygon points="660.50,520.00 661.03,521.27 662.40,521.38 661.36,522.28 661.68,523.62 660.50,522.90 659.32,523.62 659.64,522.28 658.60,521.38 659.97,521.27" fill="#222"/>
<polygon points="664.60,520.00 665.13,521.27 666.50,521.38 665.46,522.28 665.78,523.62 664.60,522.90 663.42,523.62 663.74,522.28 662.70,521.38 664.07,521.27" fill="#222"/>
<polygon points="656.40,413.20 656.93,414.47 658.30,414.58 657.26,415.48 657.58,416.82 656.40,416.10 655.22,416.82 655.54,415.48 654.50,414.58 655.87,414.47" fill="#222"/>
<polygon points="660.50,413.20 661.03,414.47 662.40,414.58 661.36,415.48 661.68,416.82 660.50,416.10 659.32,416.82 659.64,415.48 658.60,414.58 659.97,414.47" fill="#222"/>
<polygon points="664.60,413.20 665.13,414.47 666.50,414.58 665.46,415.48 665.78,416.82 664.60,416.10 663.42,416.82 663.74,415.48 662.70,414.58 664.07,414.47" fill="#222"/>
</svg></body></html>
